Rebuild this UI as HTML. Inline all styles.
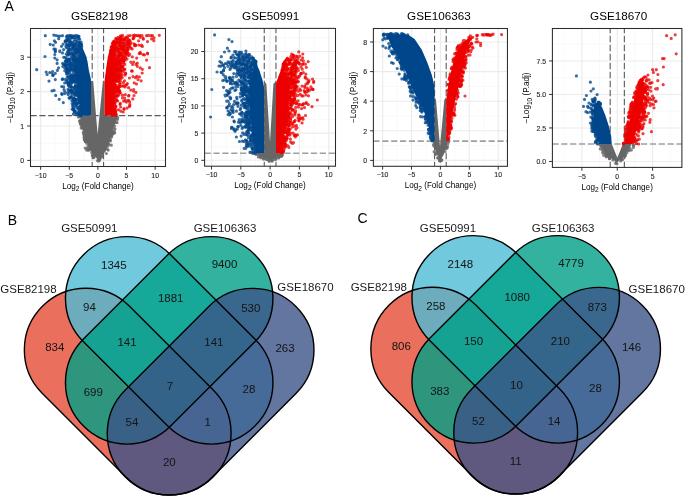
<!DOCTYPE html>
<html><head><meta charset="utf-8"><style>
html,body{margin:0;padding:0;background:#fff;}
svg{display:block;will-change:transform;}
</style></head><body>
<svg width="685" height="498" viewBox="0 0 685 498">
<rect width="685" height="498" fill="#fff"/>
<path d="M54.96 28.50V166.50M83.59 28.50V166.50M112.21 28.50V166.50M140.84 28.50V166.50M30.50 143.20H165.50M30.50 108.80H165.50M30.50 74.40H165.50M30.50 40.00H165.50" stroke="#F5F5F5" stroke-width="0.6" fill="none"/>
<path d="M40.65 28.50V166.50M69.28 28.50V166.50M97.90 28.50V166.50M126.53 28.50V166.50M155.15 28.50V166.50M30.50 160.40H165.50M30.50 126.00H165.50M30.50 91.60H165.50M30.50 57.20H165.50" stroke="#EBEBEB" stroke-width="1.1" fill="none"/>
<path d="M92.18 28.50V166.50M103.62 28.50V166.50" stroke="#4a4a4a" stroke-width="1.0" stroke-dasharray="6.5 2.5" stroke-dashoffset="1.7" fill="none"/>
<path d="M30.50 115.65H165.50" stroke="#5a5a5a" stroke-width="1.1" stroke-dasharray="6.2 2.66" fill="none"/>
<path d="M79.5 115.6L91.0 115.6L91.0 81.0L93.2 81.0L97.6 134.5L102.9 81.0L104.5 81.0L104.5 115.6L118.5 115.6L113.4 128.0L110.2 139.3L105.9 151.0L98.2 160.2L90.6 151.0L85.3 139.3L82.6 128.0Z" fill="#666666"/>
<path d="M80.5 121.1h0M86.6 143.2h0M114.4 133.1h0M89.1 149.8h0M82.1 126.6h0M99.3 160.6h0M85.5 140.1h0M81.1 125.3h0M79.6 121.3h0M112.2 134.4h0M98.5 160.0h0M113.0 132.3h0M101.3 157.0h0M81.3 123.6h0M109.9 140.6h0" stroke="#666666" stroke-opacity="0.8" stroke-width="3.20" stroke-linecap="round" fill="none"/>
<path d="M87.9 145.7h0M99.8 158.5h0M111.9 134.5h0M87.1 148.3h0M114.0 130.6h0M79.3 116.2h0M110.2 141.1h0M85.5 141.4h0M93.5 157.7h0M111.7 136.8h0M111.3 145.2h0M112.2 133.4h0M82.6 128.3h0M106.4 153.5h0M84.5 140.0h0" stroke="#666666" stroke-opacity="0.8" stroke-width="3.20" stroke-linecap="round" fill="none"/>
<path d="M89.1 149.0h0M98.7 161.0h0M84.3 139.3h0M117.5 119.5h0M92.8 155.1h0M84.3 137.4h0M112.2 132.7h0M84.1 135.6h0M91.7 152.4h0M82.0 126.7h0M80.8 123.8h0M85.2 148.1h0M112.4 131.6h0M85.6 141.6h0M99.8 158.4h0" stroke="#666666" stroke-opacity="0.8" stroke-width="3.20" stroke-linecap="round" fill="none"/>
<path d="M114.6 126.1h0M117.1 122.6h0M88.3 150.2h0M84.2 134.7h0M113.8 127.4h0M108.1 146.0h0M84.6 139.3h0M99.7 159.5h0M92.3 155.5h0M117.7 117.7h0M81.2 128.0h0M82.5 128.1h0M108.7 144.4h0M112.3 132.9h0M80.9 123.4h0" stroke="#666666" stroke-opacity="0.8" stroke-width="3.20" stroke-linecap="round" fill="none"/>
<path d="M80.4 121.2h0M85.5 141.2h0M97.4 160.6h0M115.0 129.1h0M94.1 157.3h0M79.5 116.6h0M80.8 123.4h0M84.8 137.8h0M84.1 137.4h0M107.2 148.9h0M111.2 136.3h0M83.3 131.9h0M112.2 133.2h0M102.3 155.5h0M108.6 144.0h0" stroke="#666666" stroke-opacity="0.8" stroke-width="3.20" stroke-linecap="round" fill="none"/>
<path d="M86.6 150.1h0M101.5 156.8h0M88.8 147.4h0M116.0 122.6h0M78.4 117.1h0M81.3 123.4h0M85.5 141.0h0M94.2 155.7h0M80.0 120.6h0M93.2 154.9h0M114.7 132.6h0M108.2 150.1h0M83.4 133.3h0M80.3 123.3h0M110.4 139.4h0" stroke="#666666" stroke-opacity="0.8" stroke-width="3.20" stroke-linecap="round" fill="none"/>
<path d="M78.0 36.3L80.6 43.0L83.5 50.0L86.5 57.0L87.6 62.0L88.8 70.0L90.9 79.0L91.0 84.0L91.0 102.0L91.0 115.6L81.0 115.6L79.0 102.0L77.0 84.0L75.9 79.0L73.8 70.0L74.6 62.0L78.5 57.0L81.5 50.0L80.6 43.0L78.0 36.3Z" fill="#00468B"/>
<path d="M64.7 82.9h0M67.5 35.5h0M69.5 54.1h0M75.0 62.3h0M72.9 73.5h0M75.3 57.2h0M67.5 55.3h0M71.0 35.6h0M72.2 43.9h0M80.3 49.4h0M65.4 79.4h0M61.7 86.5h0M53.8 35.1h0M71.0 68.4h0M72.9 81.6h0M66.3 71.8h0M80.1 54.9h0M68.7 65.0h0M68.9 42.1h0M69.2 53.2h0M45.3 35.7h0M66.9 44.5h0M69.9 85.7h0M70.0 66.9h0M62.3 79.6h0M79.5 102.7h0M63.7 64.6h0M76.6 92.4h0M57.1 63.4h0M69.7 45.6h0M69.7 98.2h0M76.5 40.0h0M78.0 95.2h0M67.6 79.5h0M69.3 42.0h0M74.7 68.5h0M74.4 64.8h0M74.6 68.1h0M71.4 58.8h0M64.6 91.2h0M71.8 37.7h0M75.1 39.4h0M69.4 86.4h0M70.9 66.2h0M75.8 49.6h0M67.5 61.3h0M76.8 80.6h0M52.6 71.5h0M71.7 65.5h0M77.6 51.3h0M61.8 93.5h0M67.4 40.5h0M75.1 50.9h0M74.0 97.9h0M80.5 115.4h0M58.7 38.7h0M80.3 46.1h0M77.0 114.3h0M66.8 66.3h0M73.4 54.6h0M76.8 102.8h0M72.0 78.2h0M64.0 89.5h0M52.1 72.8h0M75.1 104.0h0M68.7 44.6h0M63.3 102.6h0M60.0 36.0h0M79.0 49.1h0M77.2 51.3h0M57.1 59.8h0M66.6 61.5h0M54.4 40.8h0M76.6 87.1h0M64.8 70.8h0M70.4 85.6h0M74.2 59.4h0M68.1 82.9h0M73.0 66.3h0M74.7 93.8h0M74.9 76.1h0M72.1 103.6h0M76.1 57.9h0M76.8 40.4h0" stroke="#00468B" stroke-opacity="0.78" stroke-width="3.20" stroke-linecap="round" fill="none"/>
<path d="M68.8 59.0h0M76.8 82.1h0M67.6 73.0h0M74.2 87.9h0M67.0 38.7h0M71.9 69.7h0M78.6 99.0h0M59.2 99.3h0M69.7 72.3h0M79.7 39.3h0M73.3 77.2h0M66.9 71.7h0M72.9 56.4h0M78.0 47.4h0M53.0 75.1h0M77.4 56.7h0M74.2 75.0h0M79.9 113.5h0M71.5 96.5h0M74.8 79.7h0M77.1 80.5h0M70.6 79.9h0M55.6 42.3h0M71.7 96.0h0M69.5 73.4h0M79.9 108.8h0M70.0 74.3h0M75.2 90.2h0M72.8 44.6h0M77.8 57.7h0M68.4 45.9h0M69.1 89.9h0M67.5 73.8h0M80.8 110.2h0M58.0 36.0h0M80.3 46.8h0M79.3 56.6h0M79.2 95.1h0M66.6 69.1h0M76.1 43.5h0M69.3 51.0h0M76.4 58.4h0M76.9 99.0h0M65.1 63.9h0M68.6 85.8h0M77.8 103.4h0M78.7 113.0h0M62.5 52.9h0M67.6 38.8h0M68.1 70.2h0M71.6 90.9h0M70.8 82.9h0M71.4 64.1h0M73.2 59.7h0M69.7 64.7h0M54.8 54.5h0M75.8 47.9h0M66.3 36.5h0M67.8 64.5h0M73.5 108.8h0M78.2 56.7h0M74.3 99.2h0M78.4 58.4h0M77.9 36.4h0M67.7 61.1h0M63.2 44.1h0M68.0 89.4h0M66.4 65.1h0M79.1 42.4h0M78.5 90.6h0M68.3 76.8h0M72.8 38.0h0M74.4 91.3h0M73.7 46.9h0M74.0 36.0h0M75.2 103.5h0M69.6 77.6h0M80.3 107.9h0M53.9 49.1h0M75.6 81.4h0M76.3 91.7h0M58.5 67.9h0M76.5 113.0h0M68.7 59.7h0" stroke="#00468B" stroke-opacity="0.78" stroke-width="3.20" stroke-linecap="round" fill="none"/>
<path d="M75.3 85.7h0M66.5 40.7h0M71.1 69.8h0M70.3 43.0h0M76.4 49.3h0M76.3 46.1h0M68.2 84.5h0M81.5 44.3h0M69.5 35.5h0M77.3 93.8h0M69.9 62.9h0M72.4 47.6h0M49.0 81.1h0M69.5 44.3h0M80.0 102.4h0M72.9 53.9h0M80.5 106.8h0M65.5 40.9h0M67.6 53.2h0M75.3 37.6h0M73.7 98.9h0M73.1 81.9h0M71.8 76.1h0M74.2 43.9h0M74.7 98.9h0M54.8 58.0h0M78.3 87.3h0M73.1 62.5h0M55.4 50.8h0M77.0 88.1h0M75.6 83.6h0M74.4 89.0h0M80.5 49.8h0M65.3 65.2h0M68.8 62.3h0M73.1 58.0h0M73.0 43.9h0M70.3 70.7h0M67.2 77.0h0M76.1 76.6h0M74.3 110.9h0M80.2 53.6h0M71.1 97.2h0M78.8 52.1h0M65.2 41.5h0M66.2 54.0h0M64.5 64.5h0M66.7 80.9h0M71.1 86.8h0M76.7 48.7h0M53.3 45.1h0M66.3 68.4h0M63.6 49.6h0M74.6 64.9h0M76.5 78.5h0M69.1 97.8h0M69.3 59.7h0M74.3 76.4h0M73.7 93.3h0M68.8 49.4h0M79.9 106.7h0M72.7 92.5h0M75.1 59.6h0M77.2 54.3h0M76.5 100.1h0M70.1 49.6h0M74.4 102.3h0M77.9 51.7h0M67.4 62.1h0M63.7 57.3h0M49.7 72.5h0M72.5 90.6h0M77.3 105.8h0M56.0 35.5h0M72.2 109.2h0M75.0 102.2h0M66.4 59.2h0M77.9 109.0h0M79.0 113.3h0M70.9 64.1h0M75.2 52.8h0M59.8 51.7h0M57.4 70.4h0M59.8 50.8h0" stroke="#00468B" stroke-opacity="0.78" stroke-width="3.20" stroke-linecap="round" fill="none"/>
<path d="M79.4 46.0h0M69.1 48.1h0M80.6 111.6h0M71.8 91.9h0M70.5 63.2h0M68.2 94.7h0M75.9 60.6h0M73.2 106.6h0M78.8 42.9h0M81.3 48.6h0M75.3 111.7h0M73.2 109.0h0M70.6 76.4h0M65.2 61.0h0M71.6 93.5h0M71.7 68.3h0M76.6 58.8h0M74.3 69.0h0M72.6 67.2h0M73.2 70.8h0M62.6 78.9h0M77.8 87.2h0M73.2 76.6h0M69.2 68.2h0M79.6 111.2h0M69.0 70.1h0M73.0 65.8h0M74.9 105.7h0M76.5 91.8h0M62.5 35.7h0M81.0 114.2h0M70.0 41.5h0M68.9 84.4h0M72.8 101.1h0M74.4 36.3h0M55.3 79.6h0M74.3 55.0h0M62.6 63.4h0M79.3 51.5h0M71.3 61.9h0M78.1 107.9h0M75.3 99.3h0M71.0 49.1h0M55.4 49.2h0M75.1 103.3h0M78.9 101.9h0M72.0 53.4h0M71.3 56.5h0M72.1 78.4h0M70.7 90.2h0M78.9 44.6h0M52.0 90.8h0M67.6 51.6h0M79.7 114.7h0M76.5 41.5h0M61.5 46.3h0M78.7 108.4h0M78.8 38.8h0M68.3 82.5h0M55.3 51.7h0M69.9 92.8h0M80.3 115.3h0M74.0 41.1h0M79.2 96.7h0M67.9 72.5h0M73.5 60.7h0M70.1 39.1h0M73.1 47.5h0M78.6 97.6h0M45.0 56.5h0M75.9 81.0h0M74.1 68.6h0M36.7 69.7h0M69.9 81.7h0M72.7 64.5h0M80.8 44.0h0M68.4 54.6h0M71.7 37.6h0M66.4 67.5h0M80.7 113.2h0M70.3 64.0h0M71.7 83.3h0M73.4 103.9h0M69.6 61.0h0" stroke="#00468B" stroke-opacity="0.78" stroke-width="3.20" stroke-linecap="round" fill="none"/>
<path d="M74.4 46.0h0M66.6 48.0h0M66.8 44.9h0M62.0 94.4h0M77.3 87.3h0M81.0 52.8h0M67.7 39.8h0M75.6 80.2h0M77.2 95.5h0M74.9 72.0h0M76.4 79.5h0M69.9 53.4h0M78.9 36.3h0M65.8 42.1h0M75.0 110.9h0M71.3 45.3h0M66.6 61.6h0M79.9 101.3h0M66.5 73.9h0M62.9 66.6h0M67.5 37.7h0M79.4 44.6h0M72.1 87.1h0M70.6 41.5h0M79.7 100.0h0M80.4 43.9h0M80.2 53.0h0M67.4 92.7h0M70.0 65.8h0M71.5 75.9h0M69.7 40.7h0M78.0 95.5h0M69.6 91.1h0M69.4 68.9h0M66.0 64.7h0M73.3 69.9h0M74.5 52.0h0M81.6 115.6h0M76.9 53.2h0M76.1 85.8h0M73.7 45.8h0M76.7 52.3h0M67.0 82.8h0M74.3 111.1h0M80.6 51.1h0M77.1 92.3h0M77.1 50.3h0M78.6 111.6h0M69.4 90.4h0M74.8 53.7h0M70.7 80.4h0M71.0 54.0h0M80.1 48.0h0M74.5 111.9h0M50.2 44.4h0M73.4 48.6h0M80.9 45.7h0M73.9 99.4h0M52.9 75.4h0M72.9 79.4h0M74.0 55.9h0M74.2 60.2h0M70.7 97.4h0M74.8 94.4h0M75.9 94.2h0M68.2 36.5h0M78.5 114.4h0M73.7 99.4h0M72.1 51.1h0M76.3 91.4h0M64.8 68.1h0M55.3 73.3h0M63.7 86.8h0M79.2 97.3h0M67.0 70.1h0M69.1 83.1h0M70.5 44.9h0M74.1 58.0h0M75.8 76.6h0M79.7 45.7h0M77.6 37.5h0M75.1 62.4h0M75.1 72.1h0" stroke="#00468B" stroke-opacity="0.78" stroke-width="3.20" stroke-linecap="round" fill="none"/>
<path d="M74.8 95.3h0M65.3 41.1h0M71.4 89.6h0M77.0 52.2h0M70.8 76.6h0M73.1 48.3h0M65.4 57.3h0M79.8 100.5h0M69.4 59.0h0M65.9 46.4h0M54.1 90.4h0M79.8 42.5h0M71.4 65.7h0M79.5 55.8h0M79.3 100.6h0M80.6 47.6h0M55.7 95.4h0M76.9 90.2h0M76.3 100.0h0M73.7 109.9h0M46.2 72.1h0M65.6 61.4h0M78.6 49.8h0M72.5 35.9h0M74.2 81.5h0M70.8 36.7h0M80.2 108.2h0M79.8 101.6h0M75.2 86.3h0M66.9 58.9h0M74.3 49.7h0M80.8 42.8h0M72.3 42.5h0M74.3 114.5h0M69.7 90.4h0M75.7 43.9h0M72.4 78.2h0M76.4 95.2h0M80.3 43.2h0M81.5 45.1h0M76.8 86.4h0M77.5 35.9h0M80.5 105.8h0M74.3 45.7h0M74.0 78.1h0M69.7 78.6h0M78.0 85.7h0M74.3 87.5h0M76.8 79.3h0M65.4 65.8h0M73.4 113.9h0M72.1 92.5h0M71.4 75.5h0M75.1 101.5h0M79.5 46.9h0M76.6 104.0h0M75.9 107.2h0M67.6 69.3h0M67.3 60.6h0M72.4 81.5h0M69.5 45.7h0M69.9 36.9h0M71.2 86.8h0M71.9 100.5h0M77.5 45.2h0M76.0 35.3h0M78.8 36.8h0M80.2 42.7h0M76.2 88.5h0M74.3 60.7h0M68.8 50.2h0M47.1 74.5h0M74.4 56.0h0M76.1 81.6h0M74.7 75.8h0M70.5 63.4h0M69.8 76.8h0M81.7 46.4h0M64.7 93.6h0M70.0 59.5h0M81.1 42.1h0M72.6 106.1h0M73.6 98.7h0" stroke="#00468B" stroke-opacity="0.78" stroke-width="3.20" stroke-linecap="round" fill="none"/>
<path d="M117.7 37.2L113.0 43.0L109.6 50.0L107.8 57.0L106.5 66.0L104.6 80.6L104.5 84.0L104.5 102.0L104.5 115.6L113.5 115.6L114.5 102.0L115.5 84.0L115.6 80.6L116.5 66.0L114.8 57.0L111.6 50.0L113.0 43.0L117.7 37.2Z" fill="#ED0000"/>
<path d="M116.3 78.5h0M111.2 51.0h0M117.6 81.7h0M128.0 35.8h0M121.9 56.4h0M118.0 91.3h0M127.1 108.1h0M116.0 106.4h0M115.3 71.5h0M119.4 69.2h0M127.1 52.2h0M115.3 71.3h0M118.6 49.2h0M115.7 106.2h0M112.5 115.5h0M130.1 46.8h0M124.7 60.1h0M134.5 45.7h0M118.7 49.4h0M124.1 52.0h0M123.3 86.1h0M136.8 76.4h0M123.3 46.3h0M119.6 63.7h0M112.3 47.6h0M112.8 48.2h0M116.3 81.3h0M114.3 50.5h0M116.5 56.4h0M114.3 104.1h0M122.1 47.7h0M114.6 42.6h0M123.6 50.7h0M147.5 41.6h0M115.5 58.3h0M113.8 53.8h0M120.7 46.7h0M120.2 70.2h0M112.8 114.6h0M121.4 51.9h0M112.7 114.8h0M113.0 54.8h0M114.9 92.6h0M117.1 87.6h0M147.4 53.1h0M125.3 44.9h0M121.8 51.4h0M119.9 46.1h0M118.9 80.8h0M114.4 108.4h0M134.6 44.9h0M116.6 99.8h0M112.6 43.6h0M116.2 74.2h0M148.5 35.4h0M111.2 47.4h0M115.0 41.8h0M119.7 65.4h0M131.5 70.9h0M114.5 60.6h0M116.4 80.9h0M120.5 35.9h0M121.1 78.6h0M120.1 93.0h0M129.4 78.0h0M116.7 69.3h0M133.7 62.0h0M116.6 80.7h0M142.4 46.4h0M119.6 62.9h0M120.7 71.0h0M117.2 51.5h0M120.1 41.8h0M113.7 110.7h0M116.1 76.2h0M120.3 103.4h0M131.1 42.8h0M111.5 48.2h0M153.8 40.7h0M115.4 87.9h0M119.5 55.4h0M120.5 67.2h0M127.7 47.9h0M123.6 101.2h0M138.8 45.0h0M113.8 103.1h0M128.3 40.2h0M122.2 77.6h0M117.9 61.3h0M112.5 54.0h0M114.7 113.5h0M122.6 46.5h0M115.6 56.3h0" stroke="#ED0000" stroke-opacity="0.76" stroke-width="3.20" stroke-linecap="round" fill="none"/>
<path d="M118.6 78.0h0M125.8 41.8h0M120.7 107.0h0M120.2 71.0h0M113.6 102.6h0M118.1 79.3h0M127.3 43.9h0M114.5 91.8h0M115.3 61.7h0M121.4 47.6h0M142.2 73.0h0M119.1 76.6h0M146.5 35.7h0M135.8 45.6h0M127.8 38.2h0M116.4 63.3h0M118.6 80.8h0M117.2 48.7h0M115.5 49.0h0M137.5 35.7h0M123.7 61.4h0M132.8 98.9h0M122.1 43.0h0M122.5 95.2h0M121.2 58.6h0M127.9 49.7h0M111.5 50.1h0M121.8 62.8h0M117.7 75.1h0M119.3 91.0h0M122.8 66.7h0M115.9 59.2h0M142.4 69.3h0M114.5 44.5h0M110.7 50.2h0M120.4 42.8h0M130.8 62.1h0M125.7 73.6h0M117.4 67.1h0M115.6 114.0h0M128.6 100.3h0M120.1 86.5h0M114.3 41.5h0M127.4 83.6h0M111.8 51.7h0M134.1 37.2h0M116.0 49.4h0M127.5 47.3h0M149.5 67.7h0M118.3 80.2h0M127.2 52.7h0M119.0 68.2h0M132.7 64.4h0M114.2 54.8h0M137.3 66.3h0M125.3 94.7h0M114.1 56.1h0M151.0 35.6h0M125.6 54.9h0M120.0 104.4h0M121.0 39.6h0M122.9 58.4h0M124.8 39.5h0M116.0 115.3h0M118.3 57.9h0M113.4 109.5h0M116.6 77.2h0M118.7 65.5h0M129.1 39.8h0M124.0 48.4h0M121.3 48.6h0M122.2 74.6h0M127.5 43.4h0M123.2 112.0h0M120.2 92.5h0M116.7 76.5h0M122.5 35.3h0M146.6 60.1h0M116.2 80.5h0M115.6 50.1h0M128.1 41.6h0M120.5 45.4h0M116.8 80.3h0M120.2 74.4h0M116.8 71.5h0M118.2 42.6h0M120.3 72.5h0M118.5 51.7h0M121.2 73.8h0M114.8 86.0h0M143.1 38.2h0M125.4 46.1h0M124.5 80.8h0" stroke="#ED0000" stroke-opacity="0.76" stroke-width="3.20" stroke-linecap="round" fill="none"/>
<path d="M113.4 46.4h0M113.6 101.8h0M123.4 48.6h0M114.8 114.1h0M114.5 54.5h0M113.9 41.1h0M116.4 48.8h0M120.9 42.4h0M125.0 53.6h0M116.2 78.0h0M128.6 96.0h0M117.2 66.4h0M114.7 54.4h0M120.6 54.4h0M130.9 48.3h0M118.1 57.4h0M120.1 83.3h0M119.0 38.4h0M119.2 45.2h0M136.5 84.0h0M115.3 61.8h0M119.0 63.6h0M123.8 48.6h0M118.7 89.1h0M118.7 49.3h0M115.3 91.2h0M121.5 60.4h0M129.8 105.8h0M120.4 59.7h0M121.2 43.0h0M114.3 99.4h0M118.8 60.0h0M115.6 111.5h0M120.4 70.2h0M133.0 35.5h0M119.7 68.9h0M120.4 81.3h0M120.5 37.2h0M118.1 40.0h0M113.2 52.0h0M117.9 42.2h0M118.0 37.3h0M118.5 87.0h0M115.1 87.1h0M125.5 50.1h0M114.1 92.3h0M116.2 72.0h0M121.3 39.0h0M117.9 88.7h0M118.2 76.0h0M141.0 45.5h0M126.4 37.8h0M118.1 72.5h0M117.9 60.7h0M117.3 54.0h0M116.3 55.0h0M114.2 92.8h0M114.4 57.7h0M119.7 90.6h0M122.8 49.8h0M116.9 47.2h0M114.1 113.4h0M119.6 44.1h0M120.1 53.3h0M112.6 47.4h0M126.0 48.6h0M114.0 42.3h0M123.4 56.8h0M119.5 42.1h0M144.5 54.8h0M114.9 51.9h0M118.9 94.9h0M124.1 108.7h0M117.0 66.7h0M117.1 71.2h0M115.7 77.3h0M114.9 44.3h0M112.5 54.1h0M111.6 47.2h0M124.4 69.5h0M115.8 91.2h0M140.5 35.7h0M119.1 85.2h0M119.5 60.9h0M115.4 85.2h0M142.0 35.6h0M115.0 45.5h0M141.5 45.2h0M115.3 113.3h0M115.1 47.3h0M141.1 80.8h0M119.5 78.5h0M116.2 114.1h0" stroke="#ED0000" stroke-opacity="0.76" stroke-width="3.20" stroke-linecap="round" fill="none"/>
<path d="M116.8 86.1h0M112.9 49.6h0M127.4 41.5h0M127.0 59.1h0M125.0 39.7h0M113.3 43.7h0M122.9 53.9h0M118.6 89.7h0M115.4 114.9h0M116.5 42.3h0M115.9 85.4h0M119.2 86.7h0M128.1 41.2h0M120.1 52.7h0M122.9 41.8h0M119.1 76.4h0M132.2 48.9h0M117.9 91.1h0M112.8 54.3h0M121.0 76.7h0M125.3 100.4h0M123.5 55.7h0M151.6 38.9h0M114.5 84.9h0M122.0 67.7h0M114.3 47.5h0M115.2 75.2h0M116.5 79.4h0M129.7 44.3h0M125.5 37.4h0M112.3 47.3h0M115.1 102.9h0M121.2 67.5h0M119.5 54.6h0M122.6 56.2h0M123.0 59.9h0M116.5 60.5h0M115.4 68.2h0M136.7 58.1h0M125.3 56.8h0M123.3 82.7h0M121.9 86.0h0M120.9 111.2h0M113.8 112.2h0M122.1 47.1h0M125.1 52.5h0M114.8 103.1h0M115.6 112.0h0M125.1 87.0h0M115.6 61.0h0M120.2 74.4h0M113.9 114.0h0M116.5 61.0h0M128.1 55.0h0M113.4 42.2h0M125.9 53.6h0M116.8 63.3h0M128.1 42.8h0M114.4 86.5h0M129.2 41.3h0M114.7 42.0h0M124.7 69.2h0M117.1 96.4h0M143.2 54.7h0M118.5 68.1h0M124.7 64.3h0M140.2 67.8h0M115.3 59.3h0M140.1 52.4h0M111.1 50.6h0M136.0 64.4h0M122.8 39.7h0M118.6 61.9h0M159.3 35.3h0M122.8 57.5h0M121.3 66.0h0M116.0 81.0h0M115.6 44.9h0M123.3 43.0h0M122.1 48.6h0M117.0 70.2h0M113.1 46.7h0M114.3 114.5h0M139.0 35.5h0M120.4 53.4h0M120.1 59.7h0M123.9 43.6h0M114.5 88.8h0M114.7 87.2h0M117.0 39.6h0M120.3 67.7h0M114.8 46.6h0M119.1 56.4h0" stroke="#ED0000" stroke-opacity="0.76" stroke-width="3.20" stroke-linecap="round" fill="none"/>
<path d="M114.0 51.1h0M119.3 91.4h0M122.1 66.5h0M129.8 104.3h0M127.0 50.9h0M118.3 73.5h0M123.5 60.3h0M121.0 39.9h0M118.7 62.2h0M115.4 47.8h0M116.9 95.1h0M114.3 103.4h0M117.8 95.7h0M127.9 100.9h0M115.0 78.2h0M125.5 57.9h0M154.0 37.8h0M116.6 61.6h0M119.6 38.6h0M114.8 54.5h0M129.7 101.8h0M123.6 50.8h0M118.1 43.7h0M129.8 54.3h0M119.8 83.8h0M132.3 56.8h0M116.6 59.3h0M117.2 42.1h0M115.4 110.8h0M120.2 49.3h0M121.4 37.2h0M125.1 85.3h0M115.5 62.7h0M115.5 96.4h0M119.3 38.9h0M115.3 75.8h0M118.6 109.8h0M112.9 113.6h0M124.3 46.3h0M138.0 79.6h0M116.0 39.1h0M114.8 50.0h0M117.5 44.6h0M116.1 109.8h0M125.8 50.3h0M117.3 70.5h0M128.8 55.5h0M122.9 66.0h0M114.3 97.2h0M114.7 110.1h0M114.9 62.7h0M128.9 43.4h0M114.1 107.5h0M127.6 44.8h0M114.8 52.2h0M139.2 53.6h0M123.2 71.3h0M114.9 106.1h0M119.7 60.6h0M128.4 53.4h0M121.9 47.2h0M133.7 89.6h0M114.7 104.7h0M143.4 39.1h0M115.1 73.7h0M124.1 39.6h0M121.7 61.0h0M117.6 101.0h0M120.5 63.3h0M136.0 35.5h0M117.1 90.7h0M113.1 111.8h0M115.7 78.7h0M133.5 91.1h0M137.3 63.2h0M119.8 45.3h0M129.3 106.5h0M117.5 88.7h0M125.4 73.2h0M124.0 109.3h0M122.4 37.3h0M126.4 102.1h0M132.3 71.1h0M128.6 87.7h0M112.4 50.1h0M135.9 92.4h0M121.0 59.4h0M116.9 64.0h0M122.5 44.8h0M133.1 38.7h0M116.0 63.9h0M114.8 84.1h0" stroke="#ED0000" stroke-opacity="0.76" stroke-width="3.20" stroke-linecap="round" fill="none"/>
<path d="M152.5 35.7h0M119.2 48.5h0M138.6 40.8h0M118.2 78.8h0M116.0 66.7h0M116.0 68.1h0M115.6 107.0h0M130.0 40.8h0M111.8 45.9h0M135.5 77.7h0M128.9 95.3h0M114.3 98.0h0M119.5 55.0h0M123.7 63.2h0M112.5 43.1h0M119.1 38.7h0M121.4 70.9h0M133.0 76.6h0M118.4 61.5h0M114.4 108.9h0M130.0 44.2h0M117.4 48.2h0M122.5 69.9h0M119.1 75.5h0M113.9 99.9h0M140.2 37.3h0M114.4 49.7h0M111.5 51.2h0M122.5 97.9h0M115.9 38.4h0M115.2 71.4h0M115.7 62.0h0M115.6 95.8h0M112.4 51.5h0M139.3 76.9h0M116.2 76.3h0M112.6 47.4h0M124.0 39.5h0M124.2 60.4h0M114.4 49.8h0M134.0 95.5h0M121.7 54.2h0M130.0 35.6h0M116.4 94.9h0M127.8 48.2h0M115.4 113.1h0M114.3 86.9h0M118.9 52.6h0M117.3 92.9h0M116.6 64.7h0M115.7 62.0h0M115.1 72.6h0M130.8 90.0h0M113.0 111.4h0M118.6 69.5h0M112.9 50.9h0M123.9 42.8h0M119.8 39.5h0M126.6 84.7h0M134.5 35.1h0M119.4 71.0h0M121.2 65.7h0M133.3 38.3h0M135.3 44.8h0M115.5 99.4h0M119.1 76.7h0M115.8 101.0h0M118.6 55.5h0M140.6 53.5h0M114.8 59.2h0M114.6 43.8h0M147.6 53.8h0M118.1 56.4h0M125.0 75.2h0M113.3 50.4h0M115.1 93.6h0M135.5 44.8h0M127.1 43.5h0M134.2 82.8h0M115.5 90.6h0M113.2 107.3h0M120.9 54.2h0M116.8 100.1h0M121.5 67.5h0M117.1 88.9h0M120.7 54.8h0M128.9 46.4h0M134.0 43.8h0M115.2 80.1h0M114.6 93.3h0M124.5 98.0h0M128.0 49.4h0" stroke="#ED0000" stroke-opacity="0.76" stroke-width="3.20" stroke-linecap="round" fill="none"/>
<rect x="30.50" y="28.50" width="135.00" height="138.00" fill="none" stroke="#2b2b2b" stroke-width="1.05"/>
<path d="M40.65 166.50v3.3M69.28 166.50v3.3M97.90 166.50v3.3M126.53 166.50v3.3M155.15 166.50v3.3M30.50 160.40h-3.3M30.50 126.00h-3.3M30.50 91.60h-3.3M30.50 57.20h-3.3" stroke="#333" stroke-width="1.0" fill="none"/>
<g font-family='"Liberation Sans", sans-serif' font-size="6.9" fill="#262626" stroke="#262626" stroke-width="0.12">
<text x="40.65" y="177.60" text-anchor="middle">−10</text>
<text x="69.28" y="177.60" text-anchor="middle">−5</text>
<text x="97.90" y="177.60" text-anchor="middle">0</text>
<text x="126.53" y="177.60" text-anchor="middle">5</text>
<text x="155.15" y="177.60" text-anchor="middle">10</text>
<text x="24.20" y="163.10" text-anchor="end">0</text>
<text x="24.20" y="128.70" text-anchor="end">1</text>
<text x="24.20" y="94.30" text-anchor="end">2</text>
<text x="24.20" y="59.90" text-anchor="end">3</text>
</g>
<text font-family='"Liberation Sans", sans-serif' font-size="8.15" fill="#000" x="98.00" y="188.60" text-anchor="middle">Log<tspan font-size="6.6" dy="2.1">2</tspan><tspan dy="-2.1"> (Fold Change)</tspan></text>
<text font-family='"Liberation Sans", sans-serif' font-size="8.2" fill="#000" transform="translate(13.30 97.50) rotate(-90)" x="0" y="0" text-anchor="middle">−Log<tspan font-size="6.6" dy="2.1">10</tspan><tspan dy="-2.1"> (P.adj)</tspan></text>
<text font-family='"Liberation Sans", sans-serif' font-size="11.7" fill="#000" x="99.50" y="20.1" text-anchor="middle">GSE82198</text>
<path d="M226.15 28.40V166.20M255.45 28.40V166.20M284.75 28.40V166.20M314.05 28.40V166.20M204.60 146.70H335.50M204.60 119.50H335.50M204.60 92.30H335.50M204.60 65.10H335.50M204.60 37.90H335.50" stroke="#F5F5F5" stroke-width="0.6" fill="none"/>
<path d="M211.50 28.40V166.20M240.80 28.40V166.20M270.10 28.40V166.20M299.40 28.40V166.20M328.70 28.40V166.20M204.60 160.30H335.50M204.60 133.10H335.50M204.60 105.90H335.50M204.60 78.70H335.50M204.60 51.50H335.50" stroke="#EBEBEB" stroke-width="1.1" fill="none"/>
<path d="M264.24 28.40V166.20M275.96 28.40V166.20" stroke="#4a4a4a" stroke-width="1.0" stroke-dasharray="6.5 2.5" stroke-dashoffset="1.7" fill="none"/>
<path d="M204.60 153.22H335.50" stroke="#a0a0a0" stroke-width="1.6" stroke-dasharray="6.2 2.66" fill="none"/>
<path d="M256.0 153.2L264.2 153.2L264.2 81.0L266.4 84.0L270.0 142.0L273.4 84.0L276.0 81.0L276.0 153.2L283.5 153.2L277.0 157.5L270.2 160.4L263.0 157.5Z" fill="#666666"/>
<path d="M281.7 155.3h0M255.9 153.9h0M260.4 156.0h0M266.4 159.5h0M272.1 161.2h0M268.5 160.0h0" stroke="#666666" stroke-opacity="0.8" stroke-width="3.20" stroke-linecap="round" fill="none"/>
<path d="M261.0 157.8h0M263.5 159.1h0M258.7 155.0h0M272.1 160.3h0M261.2 157.3h0M261.1 157.1h0" stroke="#666666" stroke-opacity="0.8" stroke-width="3.20" stroke-linecap="round" fill="none"/>
<path d="M278.5 158.0h0M256.9 154.3h0M282.0 155.4h0M270.7 160.3h0M252.7 153.5h0M279.2 156.8h0" stroke="#666666" stroke-opacity="0.8" stroke-width="3.20" stroke-linecap="round" fill="none"/>
<path d="M278.7 157.6h0M280.1 156.6h0M255.8 153.9h0M281.5 156.3h0M281.2 156.4h0M269.1 161.3h0" stroke="#666666" stroke-opacity="0.8" stroke-width="3.20" stroke-linecap="round" fill="none"/>
<path d="M258.4 157.0h0M254.7 153.4h0M282.2 155.1h0M279.5 156.0h0M264.8 158.3h0M275.8 158.9h0" stroke="#666666" stroke-opacity="0.8" stroke-width="3.20" stroke-linecap="round" fill="none"/>
<path d="M273.9 159.5h0M263.1 157.8h0M267.4 159.4h0M275.4 159.3h0M260.2 157.0h0" stroke="#666666" stroke-opacity="0.8" stroke-width="3.20" stroke-linecap="round" fill="none"/>
<path d="M246.0 51.0L251.0 56.0L255.5 62.0L259.3 70.0L262.5 80.0L264.2 88.0L264.2 112.0L264.2 129.0L264.2 146.0L264.2 153.2L256.2 153.2L255.2 146.0L252.2 129.0L250.2 112.0L249.2 88.0L251.5 80.0L254.3 70.0L255.5 62.0L251.0 56.0L246.0 51.0Z" fill="#00468B"/>
<path d="M244.4 77.3h0M236.0 89.6h0M246.2 69.1h0M229.5 112.5h0M252.4 139.6h0M228.6 106.0h0M240.7 114.0h0M250.5 84.0h0M238.1 103.4h0M256.1 151.7h0M236.4 82.1h0M248.6 105.6h0M248.6 91.8h0M242.8 72.1h0M248.7 56.5h0M240.9 81.8h0M245.8 65.5h0M252.5 149.5h0M249.4 82.1h0M250.7 138.5h0M245.8 58.4h0M242.5 96.1h0M255.7 65.8h0M244.2 148.4h0M245.9 51.0h0M234.4 101.4h0M249.8 91.4h0M244.1 141.4h0M245.7 91.9h0M232.3 80.3h0M246.0 53.6h0M214.6 34.9h0M255.0 143.1h0M251.9 73.1h0M227.9 91.4h0M243.2 82.8h0M245.7 60.3h0M245.5 127.3h0M226.7 81.3h0M230.7 97.8h0M227.3 94.6h0M245.0 103.4h0M231.4 106.6h0M239.2 57.5h0M248.5 60.4h0M248.8 128.1h0M248.2 130.9h0M226.9 63.8h0M251.3 82.7h0M243.7 117.8h0M248.9 146.1h0M253.8 136.0h0M246.4 143.5h0M250.1 57.4h0M253.8 140.6h0M248.7 100.4h0M255.7 61.1h0M238.0 106.3h0M250.2 67.4h0M243.0 89.0h0M244.1 119.5h0M250.7 75.0h0M230.0 69.4h0M229.0 51.0h0M229.8 97.0h0M252.6 78.3h0M235.3 83.9h0M221.3 56.7h0M250.4 143.8h0M240.1 58.7h0M251.8 136.3h0M233.1 87.8h0M254.6 62.0h0M231.2 65.8h0M241.3 90.0h0M246.8 106.1h0M245.4 139.9h0M244.7 94.5h0M236.4 102.9h0M242.1 112.7h0M249.4 81.3h0M232.3 84.0h0M251.7 56.8h0M241.2 136.1h0M239.8 69.9h0M221.6 72.3h0M242.8 102.8h0M239.4 141.5h0M238.4 85.1h0M238.4 122.2h0M236.8 68.3h0M246.8 116.0h0M249.4 119.2h0M254.1 135.3h0M241.7 64.9h0M245.7 148.3h0M250.5 111.6h0M237.3 69.9h0M231.0 57.9h0M244.5 87.6h0M246.2 95.2h0M245.7 72.8h0M244.2 76.9h0M237.9 86.5h0M245.0 69.8h0M234.3 121.8h0M249.5 54.6h0M254.4 64.2h0M251.3 77.3h0M254.2 67.2h0M255.5 145.9h0M255.5 66.3h0M251.3 56.9h0M249.6 129.3h0M250.6 65.0h0M243.5 106.1h0M236.0 86.4h0M255.6 143.8h0" stroke="#00468B" stroke-opacity="0.78" stroke-width="3.20" stroke-linecap="round" fill="none"/>
<path d="M248.1 67.1h0M254.1 70.2h0M242.2 69.7h0M255.9 62.2h0M250.1 78.1h0M236.3 62.5h0M251.0 114.0h0M232.4 63.2h0M250.9 75.3h0M230.4 77.8h0M240.1 62.7h0M250.9 140.4h0M230.1 89.4h0M251.6 146.9h0M236.4 103.8h0M248.2 100.2h0M226.6 90.6h0M245.6 54.7h0M247.4 96.4h0M254.2 146.4h0M246.7 134.8h0M234.0 121.1h0M254.3 65.3h0M245.0 115.3h0M255.2 68.7h0M228.9 39.6h0M254.6 138.2h0M252.8 69.6h0M239.1 81.1h0M239.7 75.2h0M248.6 144.1h0M242.9 127.1h0M250.8 79.1h0M245.3 65.6h0M249.3 120.3h0M250.7 101.0h0M237.4 61.6h0M251.0 83.9h0M253.5 69.0h0M235.8 58.0h0M240.6 61.9h0M243.3 67.8h0M237.7 72.7h0M253.3 75.3h0M254.9 69.1h0M238.5 60.2h0M242.6 83.0h0M241.6 75.1h0M252.6 126.7h0M246.6 116.0h0M244.3 86.1h0M238.0 63.4h0M229.7 77.4h0M248.2 123.3h0M243.1 63.1h0M249.1 137.4h0M240.8 108.2h0M233.0 55.0h0M246.3 145.7h0M249.9 89.6h0M246.2 111.9h0M241.3 105.0h0M248.0 135.7h0M252.5 123.3h0M240.2 61.9h0M243.2 89.6h0M244.7 107.7h0M250.1 137.4h0M227.0 107.4h0M248.7 123.0h0M254.4 60.9h0M254.1 140.1h0M248.4 91.6h0M247.7 71.9h0M247.1 124.9h0M249.1 76.0h0M246.2 121.9h0M243.2 121.7h0M243.8 60.9h0M252.9 58.7h0M239.3 55.8h0M250.5 104.1h0M239.6 113.8h0M252.7 131.4h0M254.1 140.4h0M246.3 140.9h0M255.6 66.4h0M242.4 82.1h0M238.7 80.0h0M248.2 77.4h0M231.8 88.1h0M250.1 72.2h0M248.5 125.3h0M236.4 137.0h0M227.5 81.0h0M223.5 65.5h0M253.7 137.8h0M230.6 68.0h0M242.7 132.9h0M248.4 133.5h0M237.6 83.8h0M246.6 140.9h0M252.4 134.6h0M247.7 113.1h0M250.2 116.9h0M247.4 119.7h0M223.5 70.2h0M248.5 137.7h0M231.7 67.2h0M245.1 122.7h0M249.9 101.0h0M250.9 105.1h0M251.2 146.4h0M242.3 141.2h0M240.1 96.8h0M247.1 131.3h0M239.3 67.1h0" stroke="#00468B" stroke-opacity="0.78" stroke-width="3.20" stroke-linecap="round" fill="none"/>
<path d="M232.0 41.6h0M246.0 91.4h0M229.3 78.1h0M253.1 58.8h0M247.3 72.5h0M249.4 113.6h0M252.2 122.8h0M241.1 121.8h0M245.3 106.5h0M245.1 94.4h0M248.3 90.0h0M222.8 80.6h0M241.6 100.7h0M230.2 64.4h0M247.3 103.1h0M248.9 58.8h0M242.0 56.6h0M253.0 65.2h0M230.6 98.8h0M251.8 123.6h0M245.5 69.3h0M239.0 74.7h0M239.5 70.1h0M229.4 103.9h0M249.0 93.1h0M239.3 71.7h0M244.7 64.3h0M254.5 71.1h0M240.8 59.5h0M234.9 90.5h0M250.4 83.8h0M249.9 74.6h0M242.0 74.6h0M251.4 80.3h0M250.0 152.2h0M251.6 73.8h0M236.2 61.8h0M236.0 51.5h0M245.1 90.1h0M255.9 64.4h0M221.1 72.3h0M249.0 76.9h0M250.1 127.2h0M245.7 116.9h0M253.8 65.3h0M251.2 80.2h0M240.4 71.2h0M249.1 111.3h0M233.9 129.8h0M238.2 54.9h0M237.7 102.8h0M247.2 61.9h0M241.9 76.3h0M243.1 86.9h0M246.2 64.6h0M243.8 91.8h0M252.9 148.3h0M254.6 72.2h0M250.1 115.1h0M252.9 59.0h0M254.1 148.4h0M254.2 73.3h0M211.8 89.5h0M247.9 77.6h0M247.5 108.3h0M246.6 62.9h0M255.7 144.8h0M242.2 83.4h0M250.8 82.7h0M247.5 142.6h0M248.3 90.2h0M244.4 98.5h0M233.2 112.5h0M253.7 133.6h0M250.3 141.8h0M234.5 67.2h0M244.2 70.0h0M232.1 61.6h0M244.9 88.1h0M247.7 87.4h0M253.3 135.8h0M249.9 83.4h0M249.6 127.5h0M247.8 56.0h0M233.8 73.5h0M249.6 86.5h0M247.3 83.5h0M251.8 129.8h0M220.8 66.2h0M245.0 126.6h0M237.7 126.6h0M251.4 73.5h0M239.7 62.8h0M245.3 79.6h0M247.9 141.8h0M248.3 122.4h0M241.2 60.1h0M254.7 148.7h0M247.0 140.8h0M255.4 150.5h0M251.2 112.8h0M254.4 69.3h0M243.4 93.0h0M243.2 75.0h0M247.2 98.4h0M237.3 129.1h0M217.0 72.0h0M235.8 83.0h0M246.2 57.7h0M254.4 143.9h0M242.0 67.8h0M240.7 125.3h0M239.2 59.8h0M248.1 123.1h0M224.5 67.7h0M248.0 67.7h0M244.0 60.1h0" stroke="#00468B" stroke-opacity="0.78" stroke-width="3.20" stroke-linecap="round" fill="none"/>
<path d="M253.9 60.2h0M248.7 81.4h0M241.2 88.3h0M245.3 88.8h0M249.6 93.9h0M249.9 123.6h0M251.1 84.3h0M250.5 73.1h0M244.5 78.1h0M239.2 52.1h0M244.2 69.2h0M255.0 61.6h0M250.5 139.8h0M250.3 121.8h0M240.5 64.0h0M252.2 123.1h0M248.5 110.3h0M255.7 62.5h0M246.2 85.3h0M240.0 54.0h0M251.6 75.5h0M249.7 108.3h0M234.7 67.9h0M252.0 152.0h0M247.0 90.8h0M253.4 58.0h0M251.0 66.4h0M234.0 82.3h0M252.2 130.5h0M251.1 65.9h0M250.2 90.0h0M255.7 65.5h0M251.8 136.7h0M224.5 52.0h0M243.1 89.8h0M243.2 94.9h0M246.1 132.7h0M250.0 76.7h0M233.1 65.5h0M242.8 63.9h0M243.6 56.8h0M225.8 76.9h0M250.6 102.2h0M244.1 103.7h0M241.8 112.4h0M230.4 113.7h0M253.5 131.3h0M251.6 134.7h0M249.7 93.3h0M228.2 101.2h0M243.6 63.9h0M250.5 62.6h0M242.3 121.7h0M230.3 83.5h0M248.1 101.5h0M238.6 62.8h0M246.0 117.0h0M254.9 61.6h0M228.5 93.5h0M245.9 125.7h0M243.3 56.7h0M232.8 107.6h0M248.0 128.4h0M236.9 65.6h0M242.7 63.2h0M252.2 128.2h0M243.9 83.4h0M249.8 99.8h0M252.1 78.0h0M251.1 111.3h0M228.1 111.0h0M246.6 126.7h0M249.7 110.7h0M249.6 82.8h0M254.8 71.7h0M243.3 94.4h0M249.2 123.4h0M246.8 121.2h0M246.8 134.5h0M245.0 56.8h0M253.2 143.1h0M227.9 66.3h0M243.1 54.7h0M248.5 132.7h0M250.2 97.6h0M226.7 101.2h0M224.9 76.6h0M244.8 76.3h0M250.7 67.8h0M237.7 70.3h0M251.0 108.3h0M255.1 66.0h0M246.1 108.2h0M241.2 78.1h0M241.7 54.2h0M246.1 80.5h0M240.5 81.0h0M250.7 103.7h0M223.0 64.8h0M249.0 121.2h0M231.0 109.6h0M249.7 82.8h0M248.7 54.5h0M252.5 64.7h0M247.1 99.6h0M245.0 74.4h0M248.4 70.3h0M252.0 61.6h0M251.7 69.1h0M230.3 78.7h0M240.1 65.0h0M241.4 70.9h0M250.7 67.4h0M230.2 113.9h0M247.5 111.7h0M251.5 130.3h0M255.5 142.1h0" stroke="#00468B" stroke-opacity="0.78" stroke-width="3.20" stroke-linecap="round" fill="none"/>
<path d="M253.1 148.8h0M237.5 54.9h0M240.2 109.7h0M246.2 119.2h0M248.2 74.8h0M247.7 144.5h0M255.3 66.8h0M226.9 95.5h0M254.0 137.2h0M242.1 64.3h0M230.1 80.6h0M210.6 117.0h0M228.9 92.6h0M248.4 70.3h0M249.1 98.3h0M245.4 99.9h0M250.8 112.6h0M254.1 138.7h0M248.9 102.8h0M235.4 129.9h0M248.9 124.5h0M250.8 69.7h0M244.0 72.7h0M254.9 151.3h0M243.2 79.7h0M247.2 112.4h0M248.3 75.0h0M225.3 63.5h0M247.1 146.6h0M233.1 110.2h0M241.3 87.6h0M247.8 115.0h0M250.5 75.2h0M244.9 91.3h0M244.2 113.8h0M246.1 117.3h0M250.9 58.6h0M242.6 99.5h0M250.4 101.7h0M225.0 95.1h0M248.8 123.2h0M255.2 65.7h0M250.8 117.7h0M242.9 58.1h0M241.7 119.4h0M250.4 135.8h0M255.3 64.9h0M235.5 64.7h0M250.6 113.1h0M225.3 96.0h0M244.4 89.3h0M249.8 58.5h0M253.2 130.7h0M241.3 90.0h0M247.4 56.2h0M251.0 122.2h0M251.8 63.4h0M246.4 75.9h0M246.0 86.5h0M255.6 61.7h0M246.5 65.2h0M244.1 72.3h0M250.6 70.6h0M233.1 77.2h0M252.7 76.6h0M242.2 128.4h0M223.6 70.8h0M237.0 99.0h0M236.6 73.9h0M241.9 93.7h0M256.2 147.0h0M228.1 61.8h0M254.6 72.6h0M244.4 64.2h0M255.2 141.8h0M219.9 61.6h0M240.3 72.9h0M251.2 67.3h0M244.1 74.0h0M253.7 74.3h0M233.6 104.7h0M248.5 100.1h0M224.6 80.0h0M242.6 95.3h0M252.1 148.3h0M254.8 153.1h0M249.8 70.6h0M252.2 140.8h0M244.4 113.7h0M236.5 76.4h0M250.8 118.0h0M252.1 62.1h0M252.0 144.7h0M250.4 93.9h0M246.9 57.0h0M245.2 106.3h0M247.2 67.7h0M252.0 136.0h0M249.1 130.0h0M255.2 148.9h0M234.1 57.5h0M234.3 128.9h0M250.3 105.7h0M241.8 115.6h0M246.7 100.5h0M231.3 57.2h0M250.6 120.7h0M227.4 48.2h0M231.6 127.3h0M248.9 126.9h0M248.6 63.0h0M241.8 90.7h0M250.6 126.6h0M255.1 68.0h0M248.7 89.3h0M253.6 133.1h0M225.8 79.1h0" stroke="#00468B" stroke-opacity="0.78" stroke-width="3.20" stroke-linecap="round" fill="none"/>
<path d="M248.7 97.8h0M249.3 60.7h0M239.1 69.6h0M251.1 113.9h0M243.8 103.3h0M239.5 68.8h0M234.5 64.0h0M247.2 71.8h0M251.2 79.2h0M246.8 125.1h0M234.6 51.7h0M245.5 121.5h0M253.3 152.4h0M249.0 93.0h0M237.2 84.0h0M248.7 122.9h0M251.0 117.3h0M244.7 104.6h0M247.8 90.2h0M232.1 80.3h0M248.3 96.0h0M252.2 71.7h0M254.7 69.0h0M246.1 102.8h0M254.4 63.6h0M251.3 69.7h0M245.7 89.6h0M244.4 76.9h0M242.6 121.0h0M248.4 80.8h0M223.6 87.3h0M243.0 69.0h0M236.5 67.2h0M248.6 126.1h0M246.8 122.5h0M236.7 97.3h0M254.3 136.0h0M245.1 84.9h0M245.1 80.8h0M233.3 60.3h0M249.6 93.1h0M229.4 62.8h0M236.4 111.2h0M232.4 117.0h0M250.5 96.1h0M246.8 97.1h0M247.6 118.0h0M240.4 93.4h0M247.9 94.6h0M247.4 113.4h0M248.8 103.5h0M248.8 100.2h0M236.5 63.7h0M249.7 66.4h0M247.1 61.8h0M255.1 61.2h0M236.0 62.4h0M241.1 76.6h0M249.4 93.4h0M255.1 66.0h0M254.6 137.4h0M252.7 64.4h0M245.3 82.5h0M219.0 66.0h0M241.4 82.8h0M246.7 113.1h0M231.5 128.5h0M254.4 72.2h0M254.3 71.4h0M247.1 87.9h0M253.6 63.9h0M232.4 111.3h0M252.6 79.3h0M245.9 65.7h0M238.1 59.5h0M242.8 92.0h0M243.4 57.1h0M240.2 122.5h0M243.6 84.0h0M240.0 53.0h0M251.6 65.1h0M232.1 127.4h0M223.2 74.6h0M251.2 84.0h0M249.9 116.4h0M255.7 61.4h0M239.2 119.7h0M230.3 62.2h0M236.2 53.8h0M243.0 59.9h0M245.6 87.7h0M229.4 114.9h0M245.0 85.7h0M230.5 82.9h0M247.8 64.6h0M228.1 114.6h0M238.6 57.6h0M230.0 92.3h0M244.1 120.9h0M241.4 52.2h0M238.3 126.7h0M251.5 72.5h0M241.1 85.0h0M247.7 105.8h0M244.1 134.4h0M233.0 64.8h0M247.5 114.9h0M253.6 72.0h0M245.5 114.7h0M246.4 87.5h0M244.9 87.3h0M221.6 62.9h0M226.9 107.9h0M235.1 131.3h0M245.4 67.6h0M247.6 73.2h0M252.4 141.3h0" stroke="#00468B" stroke-opacity="0.78" stroke-width="3.20" stroke-linecap="round" fill="none"/>
<path d="M292.0 54.0L288.0 58.0L284.0 64.0L281.0 70.0L278.5 76.0L276.0 83.4L276.0 100.0L276.0 124.5L276.0 146.0L276.0 153.2L281.0 153.2L282.5 146.0L286.0 124.5L288.5 100.0L289.0 83.4L285.5 76.0L283.0 70.0L284.0 64.0L288.0 58.0L292.0 54.0Z" fill="#ED0000"/>
<path d="M292.9 80.0h0M283.8 143.7h0M298.8 51.9h0M297.8 95.4h0M295.5 84.9h0M286.3 115.2h0M292.8 99.3h0M306.0 95.0h0M291.3 73.2h0M293.4 79.6h0M302.0 86.1h0M289.2 63.2h0M296.1 56.2h0M284.0 67.3h0M294.7 69.9h0M290.8 107.8h0M282.6 67.4h0M285.3 74.6h0M293.4 55.3h0M288.4 81.8h0M286.9 106.5h0M292.5 71.4h0M295.8 94.7h0M287.8 108.5h0M282.9 66.6h0M289.9 135.1h0M288.5 95.8h0M293.3 109.6h0M296.6 67.3h0M288.6 74.9h0M283.0 142.8h0M294.8 70.5h0M283.6 73.4h0M293.8 70.9h0M288.7 64.2h0M286.6 115.2h0M284.2 138.5h0M285.4 74.8h0M299.0 63.0h0M308.3 104.5h0M298.0 117.7h0M283.2 145.0h0M286.5 59.5h0M297.2 86.7h0M289.4 86.3h0M299.6 64.1h0M287.3 134.8h0M289.7 113.7h0M302.3 69.2h0M285.2 64.6h0M282.3 146.7h0M288.1 89.2h0M291.4 78.7h0M288.1 77.0h0M284.7 76.1h0M291.3 70.4h0M301.5 73.3h0M290.0 81.1h0M284.3 140.7h0M287.2 110.5h0M295.7 96.1h0M286.7 110.4h0M293.3 92.9h0M281.8 145.8h0M298.0 100.8h0M294.0 63.0h0M294.3 98.4h0M284.7 144.5h0M303.4 72.6h0M292.4 69.5h0M290.9 92.5h0M288.5 132.4h0M295.3 137.0h0M294.9 135.9h0M292.2 58.0h0M291.4 102.5h0M295.9 101.1h0M289.2 81.6h0M294.1 76.2h0M281.4 149.2h0M302.1 104.8h0M283.3 72.4h0M289.5 62.7h0M289.1 129.5h0M283.7 137.5h0M288.5 117.5h0M283.7 66.8h0M285.5 69.5h0M283.0 140.8h0M291.9 68.4h0M290.6 103.4h0M291.8 84.5h0M287.4 115.1h0M298.8 120.8h0M288.1 69.8h0M286.3 122.0h0M299.3 115.7h0M298.2 76.4h0M292.2 91.0h0" stroke="#ED0000" stroke-opacity="0.76" stroke-width="3.20" stroke-linecap="round" fill="none"/>
<path d="M295.0 73.8h0M287.6 125.0h0M298.3 70.4h0M287.3 132.2h0M308.0 90.0h0M287.4 124.3h0M290.9 108.1h0M287.1 78.0h0M285.4 63.0h0M286.0 117.6h0M287.2 78.8h0M281.6 151.8h0M280.8 152.1h0M287.3 124.1h0M288.3 89.0h0M312.7 89.2h0M288.7 112.7h0M287.6 145.7h0M281.0 149.3h0M290.0 96.3h0M288.4 91.9h0M292.4 100.4h0M292.5 68.2h0M302.8 54.0h0M293.8 63.3h0M293.9 64.8h0M287.3 68.2h0M284.8 66.6h0M298.1 68.7h0M282.3 147.8h0M282.6 139.2h0M297.4 82.0h0M283.6 137.4h0M296.1 62.4h0M293.5 85.1h0M291.6 100.6h0M291.9 82.3h0M299.1 63.5h0M290.7 56.6h0M286.9 108.0h0M298.4 104.4h0M307.8 83.3h0M294.3 121.7h0M296.2 103.7h0M305.5 115.5h0M292.3 74.1h0M285.8 67.2h0M290.7 112.7h0M290.3 128.8h0M294.7 82.2h0M288.0 59.0h0M291.8 81.3h0M304.7 86.1h0M283.5 150.8h0M286.8 119.4h0M289.9 73.9h0M294.7 87.2h0M297.4 134.9h0M285.3 132.4h0M283.0 142.4h0M288.4 128.8h0M284.9 74.1h0M287.5 120.9h0M294.3 65.4h0M292.2 114.5h0M287.9 105.3h0M289.3 87.1h0M287.5 102.8h0M286.2 74.2h0M299.6 76.1h0M302.7 104.7h0M288.0 95.2h0M293.4 86.6h0M287.7 96.7h0M287.9 111.3h0M293.3 100.6h0M288.6 74.3h0M298.2 78.0h0M284.7 76.4h0M290.7 120.7h0M290.4 95.6h0M291.1 98.6h0M290.7 71.4h0M287.3 58.3h0M284.0 130.6h0M289.1 125.2h0M283.5 64.2h0M288.8 147.4h0M290.1 104.3h0M304.2 90.5h0M282.8 152.8h0M285.9 69.6h0M282.2 70.0h0M288.4 146.4h0M302.6 57.8h0M305.2 77.8h0M283.0 69.1h0M282.1 142.1h0" stroke="#ED0000" stroke-opacity="0.76" stroke-width="3.20" stroke-linecap="round" fill="none"/>
<path d="M300.6 118.4h0M293.6 102.2h0M292.3 110.0h0M299.9 104.6h0M286.0 78.6h0M289.9 100.2h0M309.8 89.9h0M292.7 69.0h0M294.9 65.4h0M297.2 61.1h0M285.3 75.8h0M292.2 124.3h0M287.4 107.3h0M295.7 77.3h0M285.9 131.9h0M287.4 81.2h0M299.0 120.2h0M283.9 63.7h0M300.7 90.3h0M293.5 82.5h0M292.2 80.3h0M293.7 83.3h0M291.5 92.4h0M305.9 74.0h0M292.5 127.0h0M298.9 119.0h0M287.6 117.9h0M293.2 55.1h0M288.9 100.4h0M285.9 78.2h0M298.5 114.8h0M293.9 80.8h0M285.3 140.3h0M293.2 99.7h0M287.0 80.1h0M301.2 60.1h0M300.7 74.1h0M285.8 146.6h0M286.2 125.6h0M286.3 77.2h0M297.1 62.3h0M288.3 100.1h0M298.4 107.1h0M294.7 61.4h0M308.7 81.6h0M284.7 146.7h0M294.0 121.8h0M299.8 56.1h0M288.5 101.5h0M286.8 64.8h0M308.8 90.8h0M295.1 71.4h0M292.8 95.7h0M289.1 59.5h0M286.6 78.8h0M287.8 110.0h0M286.8 138.7h0M305.3 76.8h0M291.4 88.2h0M291.9 74.0h0M313.8 81.4h0M306.3 67.3h0M304.9 91.9h0M283.5 139.4h0M294.5 126.3h0M283.8 69.5h0M289.6 96.9h0M294.2 89.8h0M298.4 91.2h0M292.6 92.9h0M288.4 134.6h0M291.3 76.8h0M288.3 60.4h0M290.8 83.2h0M285.9 60.5h0M286.4 138.6h0M287.9 91.4h0M284.7 142.0h0M284.8 129.7h0M293.0 125.2h0M286.1 114.5h0M288.6 117.4h0M297.4 56.5h0M306.3 102.6h0M290.4 139.2h0M289.5 73.9h0M287.4 58.4h0M281.7 149.1h0M285.4 127.8h0M295.3 112.3h0M295.3 134.8h0M292.1 67.4h0M288.2 85.7h0M285.6 126.6h0M288.6 129.6h0M296.6 89.1h0M295.7 110.8h0M293.6 110.3h0" stroke="#ED0000" stroke-opacity="0.76" stroke-width="3.20" stroke-linecap="round" fill="none"/>
<path d="M295.1 82.8h0M291.1 77.7h0M290.8 68.2h0M292.1 87.3h0M288.9 78.0h0M291.4 73.5h0M293.3 101.3h0M295.6 76.0h0M291.7 105.3h0M287.4 72.3h0M287.1 72.2h0M291.4 93.2h0M301.1 67.0h0M286.1 117.1h0M296.3 86.3h0M288.0 94.1h0M281.0 149.5h0M291.7 54.2h0M286.7 137.9h0M289.7 59.8h0M290.4 100.1h0M292.5 101.8h0M296.3 72.3h0M283.4 67.2h0M282.3 141.4h0M295.8 59.8h0M293.0 64.7h0M288.0 106.5h0M289.4 98.3h0M290.2 62.8h0M300.3 94.3h0M285.9 132.6h0M289.6 119.0h0M286.6 66.1h0M289.3 61.9h0M285.6 64.5h0M288.4 103.2h0M289.5 93.6h0M290.7 142.0h0M285.4 120.2h0M286.1 73.0h0M284.8 63.7h0M293.2 75.3h0M302.1 122.9h0M288.4 73.6h0M293.7 86.8h0M303.1 95.9h0M286.1 121.1h0M308.2 61.6h0M288.7 114.2h0M295.2 74.6h0M287.6 77.7h0M296.4 79.0h0M290.3 91.7h0M284.9 139.0h0M285.6 132.1h0M288.6 125.6h0M294.2 102.8h0M288.2 86.6h0M288.4 97.4h0M295.7 67.8h0M295.2 120.4h0M294.5 99.4h0M285.6 131.2h0M303.1 119.2h0M294.7 67.5h0M285.5 131.6h0M306.1 84.1h0M283.5 69.2h0M295.1 82.0h0M295.3 90.8h0M290.1 95.8h0M285.2 74.5h0M288.8 116.9h0M290.0 123.2h0M289.6 108.6h0M290.7 79.4h0M288.0 99.4h0M291.1 142.4h0M289.3 68.5h0M285.5 143.8h0M287.3 63.8h0M288.1 81.9h0M310.9 86.9h0M290.4 118.8h0M293.0 72.5h0M284.3 62.5h0M295.5 87.3h0M289.6 93.0h0M291.1 87.9h0M288.8 131.8h0M291.3 68.1h0M286.1 64.8h0M294.5 86.4h0M285.7 123.7h0M296.7 103.2h0M293.3 56.3h0M303.4 60.8h0" stroke="#ED0000" stroke-opacity="0.76" stroke-width="3.20" stroke-linecap="round" fill="none"/>
<path d="M285.4 144.3h0M284.8 63.7h0M286.3 140.4h0M295.3 82.7h0M295.7 107.4h0M293.4 93.4h0M313.6 82.5h0M290.5 117.9h0M285.5 120.9h0M291.5 101.0h0M291.4 104.1h0M305.1 92.3h0M294.3 135.4h0M292.6 143.4h0M292.2 76.1h0M301.7 95.8h0M290.6 122.5h0M291.0 80.6h0M287.4 81.4h0M295.9 64.9h0M288.2 88.1h0M300.0 118.7h0M293.2 133.2h0M287.8 79.3h0M296.1 135.5h0M286.8 73.9h0M285.0 61.1h0M290.0 72.5h0M291.1 103.5h0M292.3 123.4h0M286.9 117.5h0M285.0 128.5h0M282.8 69.9h0M284.3 62.4h0M303.6 63.5h0M298.5 62.7h0M292.6 91.7h0M290.6 84.4h0M287.7 93.3h0M312.0 106.7h0M288.3 89.0h0M294.1 74.6h0M291.8 65.6h0M289.5 125.5h0M285.0 72.1h0M287.1 136.2h0M289.9 115.3h0M285.9 67.1h0M293.5 142.6h0M291.7 69.2h0M287.7 131.3h0M284.3 136.4h0M290.8 72.2h0M286.9 113.6h0M294.1 67.6h0M287.1 123.9h0M288.6 78.0h0M294.6 98.4h0M292.0 93.7h0M290.8 60.1h0M288.1 128.2h0M283.8 65.9h0M296.3 69.1h0M294.4 88.6h0M304.5 107.6h0M294.9 115.0h0M301.6 108.6h0M288.4 64.7h0M292.4 64.8h0M288.6 115.4h0M291.6 92.3h0M293.0 94.9h0M293.9 95.8h0M288.3 93.0h0M298.4 81.6h0M282.1 69.9h0M300.9 73.4h0M286.8 79.2h0M306.1 103.4h0M281.5 152.6h0M285.8 76.9h0M313.1 89.5h0M299.8 89.0h0M288.1 130.6h0M288.3 93.0h0M290.6 59.9h0M305.4 64.2h0M287.4 101.7h0M296.4 125.3h0M284.1 139.2h0M285.0 76.5h0M307.0 79.0h0M295.8 61.8h0M283.6 151.0h0M302.7 117.6h0M292.4 116.8h0M284.1 142.5h0M288.1 120.7h0" stroke="#ED0000" stroke-opacity="0.76" stroke-width="3.20" stroke-linecap="round" fill="none"/>
<path d="M285.4 127.8h0M286.9 109.4h0M290.0 83.5h0M287.3 69.0h0M294.6 58.1h0M285.5 129.8h0M286.4 79.4h0M289.5 92.4h0M302.0 64.4h0M282.2 148.3h0M295.0 91.9h0M309.0 80.5h0M295.0 112.9h0M306.9 91.9h0M287.9 110.4h0M287.9 134.1h0M288.3 91.9h0M303.6 103.7h0M290.4 63.8h0M290.9 133.1h0M292.7 83.1h0M307.5 89.0h0M287.0 108.6h0M289.0 130.6h0M282.2 146.0h0M283.2 151.7h0M284.8 147.1h0M287.4 124.7h0M289.9 98.5h0M292.0 101.6h0M291.3 104.2h0M293.0 94.3h0M295.9 129.2h0M288.9 60.0h0M288.0 90.8h0M283.7 138.4h0M292.6 103.8h0M295.8 70.6h0M295.4 86.7h0M288.3 96.8h0M290.4 92.1h0M291.0 93.5h0M293.1 64.6h0M290.7 84.2h0M288.6 122.1h0M288.2 111.9h0M297.0 81.1h0M288.9 86.1h0M294.2 80.7h0M286.4 137.4h0M290.4 63.2h0M283.0 145.4h0M284.1 132.4h0M285.2 63.1h0M285.7 139.2h0M284.1 132.7h0M284.9 145.5h0M292.0 110.1h0M289.7 79.9h0M304.8 87.4h0M293.8 79.0h0M307.3 88.1h0M288.4 88.6h0M288.9 98.4h0M287.4 106.8h0M284.4 148.6h0M295.7 82.2h0M287.2 138.0h0M295.0 89.7h0M296.9 61.1h0M317.3 100.0h0M312.1 89.0h0M290.1 92.0h0M287.3 108.1h0M308.0 82.0h0M288.1 133.3h0M288.0 109.2h0M281.5 151.0h0M312.5 79.1h0M308.5 95.8h0M294.1 93.4h0M288.7 98.9h0M283.7 73.4h0M287.1 70.0h0M283.0 64.4h0M290.9 105.7h0M297.9 58.4h0M295.5 64.4h0M297.0 127.7h0M284.1 73.3h0M293.8 58.7h0M292.3 59.9h0M294.0 79.7h0M285.3 64.0h0M285.4 77.7h0M302.7 64.4h0M286.0 120.5h0M295.4 80.6h0" stroke="#ED0000" stroke-opacity="0.76" stroke-width="3.20" stroke-linecap="round" fill="none"/>
<rect x="204.60" y="28.40" width="130.90" height="137.80" fill="none" stroke="#2b2b2b" stroke-width="1.05"/>
<path d="M211.50 166.20v3.3M240.80 166.20v3.3M270.10 166.20v3.3M299.40 166.20v3.3M328.70 166.20v3.3M204.60 160.30h-3.3M204.60 133.10h-3.3M204.60 105.90h-3.3M204.60 78.70h-3.3M204.60 51.50h-3.3" stroke="#333" stroke-width="1.0" fill="none"/>
<g font-family='"Liberation Sans", sans-serif' font-size="6.9" fill="#262626" stroke="#262626" stroke-width="0.12">
<text x="211.50" y="177.30" text-anchor="middle">−10</text>
<text x="240.80" y="177.30" text-anchor="middle">−5</text>
<text x="270.10" y="177.30" text-anchor="middle">0</text>
<text x="299.40" y="177.30" text-anchor="middle">5</text>
<text x="328.70" y="177.30" text-anchor="middle">10</text>
<text x="198.30" y="163.00" text-anchor="end">0</text>
<text x="198.30" y="135.80" text-anchor="end">5</text>
<text x="198.30" y="108.60" text-anchor="end">10</text>
<text x="198.30" y="81.40" text-anchor="end">15</text>
<text x="198.30" y="54.20" text-anchor="end">20</text>
</g>
<text font-family='"Liberation Sans", sans-serif' font-size="8.15" fill="#000" x="270.05" y="188.30" text-anchor="middle">Log<tspan font-size="6.6" dy="2.1">2</tspan><tspan dy="-2.1"> (Fold Change)</tspan></text>
<text font-family='"Liberation Sans", sans-serif' font-size="8.2" fill="#000" transform="translate(183.70 97.30) rotate(-90)" x="0" y="0" text-anchor="middle">−Log<tspan font-size="6.6" dy="2.1">10</tspan><tspan dy="-2.1"> (P.adj)</tspan></text>
<text font-family='"Liberation Sans", sans-serif' font-size="11.7" fill="#000" x="270.65" y="20.1" text-anchor="middle">GSE50991</text>
<path d="M397.05 28.50V166.30M425.95 28.50V166.30M454.85 28.50V166.30M483.75 28.50V166.30M373.40 145.60H507.45M373.40 116.00H507.45M373.40 86.40H507.45M373.40 56.80H507.45" stroke="#F5F5F5" stroke-width="0.6" fill="none"/>
<path d="M382.60 28.50V166.30M411.50 28.50V166.30M440.40 28.50V166.30M469.30 28.50V166.30M498.20 28.50V166.30M373.40 160.40H507.45M373.40 130.80H507.45M373.40 101.20H507.45M373.40 71.60H507.45M373.40 42.00H507.45" stroke="#EBEBEB" stroke-width="1.1" fill="none"/>
<path d="M434.62 28.50V166.30M446.18 28.50V166.30" stroke="#4a4a4a" stroke-width="1.0" stroke-dasharray="6.5 2.5" stroke-dashoffset="1.7" fill="none"/>
<path d="M373.40 141.15H507.45" stroke="#a0a0a0" stroke-width="1.6" stroke-dasharray="6.2 2.66" fill="none"/>
<path d="M432.8 141.1L434.6 141.1L434.6 97.0L436.0 100.0L440.0 146.5L444.3 100.0L446.2 97.0L446.2 141.1L447.8 141.1L446.0 148.0L443.5 155.0L440.4 160.6L437.3 155.0L434.5 148.0Z" fill="#666666"/>
<path d="M438.0 157.8h0M435.3 154.4h0M439.3 158.7h0M435.6 152.6h0" stroke="#666666" stroke-opacity="0.8" stroke-width="3.20" stroke-linecap="round" fill="none"/>
<path d="M433.5 144.7h0M447.1 148.1h0M441.4 160.6h0M441.4 160.2h0" stroke="#666666" stroke-opacity="0.8" stroke-width="3.20" stroke-linecap="round" fill="none"/>
<path d="M446.2 147.5h0M440.5 160.9h0M437.8 157.9h0M448.6 141.6h0" stroke="#666666" stroke-opacity="0.8" stroke-width="3.20" stroke-linecap="round" fill="none"/>
<path d="M436.7 153.8h0M441.8 159.8h0M444.9 151.5h0M439.6 160.2h0" stroke="#666666" stroke-opacity="0.8" stroke-width="3.20" stroke-linecap="round" fill="none"/>
<path d="M447.6 146.4h0M448.0 143.6h0M434.1 151.7h0" stroke="#666666" stroke-opacity="0.8" stroke-width="3.20" stroke-linecap="round" fill="none"/>
<path d="M439.6 161.0h0M446.2 147.9h0M434.0 146.2h0" stroke="#666666" stroke-opacity="0.8" stroke-width="3.20" stroke-linecap="round" fill="none"/>
<path d="M434.6 141.1L434.6 88.0L433.6 82.3L431.8 75.0L427.3 62.4L421.8 49.7L414.6 38.9L409.0 35.2L405.6 34.3L389.0 34.3L387.6 36.5L391.1 46.1L400.1 60.6L406.5 73.2L411.0 85.9L416.4 96.7L422.1 105.3L426.7 120.5L431.3 135.8L432.8 141.1Z" fill="#00468B"/>
<path d="M423.4 110.6h0M413.0 100.1h0M421.8 105.4h0M416.4 100.3h0M396.8 34.0h0M430.3 137.1h0M421.3 109.3h0M399.2 74.1h0M421.7 105.3h0M402.8 34.1h0M393.1 34.0h0M418.5 102.4h0M387.9 34.3h0M422.0 110.9h0M404.9 77.7h0M415.7 105.5h0M401.6 68.5h0M387.7 34.9h0M387.6 36.9h0M406.8 76.4h0M417.2 101.1h0M409.1 82.2h0M430.3 133.7h0M386.8 34.4h0M404.7 76.3h0M409.9 86.9h0M420.1 107.3h0M425.8 119.2h0" stroke="#00468B" stroke-opacity="0.78" stroke-width="3.20" stroke-linecap="round" fill="none"/>
<path d="M402.7 66.2h0M395.5 54.0h0M432.3 140.9h0M429.2 131.3h0M397.2 34.0h0M404.1 78.3h0M410.6 88.7h0M397.8 34.0h0M385.5 39.0h0M385.0 34.3h0M421.6 105.0h0M384.0 34.2h0M383.9 34.6h0M388.1 38.1h0M419.7 104.1h0M425.3 122.7h0M411.0 92.2h0M424.9 116.6h0M411.1 87.0h0M400.9 62.7h0M403.0 67.3h0M393.3 63.3h0M383.0 46.1h0M407.4 77.5h0M426.3 121.9h0M408.9 82.1h0M390.4 46.0h0M410.6 95.9h0" stroke="#00468B" stroke-opacity="0.78" stroke-width="3.20" stroke-linecap="round" fill="none"/>
<path d="M429.2 129.2h0M388.1 35.2h0M390.9 34.1h0M409.3 86.9h0M412.6 91.5h0M398.5 58.4h0M401.8 65.4h0M396.0 58.0h0M428.6 129.6h0M413.0 93.1h0M400.7 63.0h0M407.7 34.8h0M402.6 34.1h0M402.5 65.5h0M389.6 34.1h0M405.2 76.1h0M432.0 139.1h0M392.0 52.3h0M388.7 43.5h0M390.4 33.8h0M430.6 138.5h0M391.6 62.7h0M420.5 108.1h0M403.1 67.2h0M397.4 59.2h0M404.4 79.4h0M431.6 139.5h0M405.3 75.1h0" stroke="#00468B" stroke-opacity="0.78" stroke-width="3.20" stroke-linecap="round" fill="none"/>
<path d="M431.1 135.8h0M416.0 102.3h0M411.5 88.8h0M401.5 33.5h0M413.1 96.7h0M410.6 87.8h0M430.0 134.0h0M393.0 53.9h0M392.3 50.9h0M428.5 129.3h0M391.0 51.2h0M389.3 56.0h0M426.8 122.4h0M389.0 48.5h0M431.9 138.7h0M401.6 63.7h0M415.4 98.3h0M420.6 116.6h0M407.2 78.8h0M383.4 34.4h0M414.4 96.8h0M430.7 135.4h0M390.2 34.4h0M400.4 62.4h0M422.0 116.8h0M420.6 105.7h0M412.4 91.8h0M428.1 125.2h0" stroke="#00468B" stroke-opacity="0.78" stroke-width="3.20" stroke-linecap="round" fill="none"/>
<path d="M397.2 68.5h0M416.4 98.1h0M384.3 37.7h0M423.1 109.2h0M398.1 57.8h0M400.6 62.7h0M407.5 76.3h0M397.9 59.3h0M408.6 83.3h0M422.0 105.4h0M421.8 112.1h0M397.7 59.7h0M418.3 101.5h0M394.4 52.2h0M392.2 53.2h0M400.2 62.3h0M383.3 35.2h0M401.2 66.3h0M401.8 64.6h0M391.3 34.3h0M400.4 63.3h0M385.8 47.8h0M418.4 101.1h0M401.9 78.9h0M410.2 91.2h0M406.3 80.5h0M422.3 109.5h0M403.2 68.3h0" stroke="#00468B" stroke-opacity="0.78" stroke-width="3.20" stroke-linecap="round" fill="none"/>
<path d="M405.0 78.3h0M387.6 35.0h0M424.8 116.9h0M432.0 140.4h0M382.7 39.8h0M419.6 102.7h0M395.6 33.6h0M422.8 108.4h0M429.3 133.7h0M401.2 68.7h0M396.9 56.3h0M404.0 34.3h0M404.9 73.8h0M391.1 33.6h0M404.2 70.2h0M388.6 34.5h0M394.4 51.8h0M387.7 38.0h0M420.2 110.6h0M428.2 133.2h0M416.8 98.9h0M430.3 133.2h0M399.8 61.6h0M425.3 119.1h0M389.4 46.5h0M416.8 107.6h0M401.8 69.5h0" stroke="#00468B" stroke-opacity="0.78" stroke-width="3.20" stroke-linecap="round" fill="none"/>
<path d="M446.2 141.1L446.2 100.0L448.2 85.8L451.1 71.4L454.7 56.9L459.0 46.8L464.8 41.0L468.0 38.5L471.0 39.5L467.7 46.8L464.8 56.9L461.9 71.4L459.0 85.8L457.0 92.0L454.2 105.0L451.1 120.0L448.1 135.0L447.0 141.1Z" fill="#ED0000"/>
<path d="M463.5 65.9h0M468.5 50.5h0M450.9 127.1h0M487.1 34.6h0M462.6 43.0h0M460.1 85.3h0M453.3 59.6h0M449.2 132.2h0M461.7 84.4h0M451.4 121.4h0M462.6 68.3h0M460.4 44.9h0M448.4 139.1h0M451.4 68.6h0M456.4 99.1h0M462.1 76.0h0M467.9 47.2h0M463.7 63.4h0M468.2 48.0h0M493.1 34.2h0M465.2 60.7h0M463.1 73.0h0M480.6 45.6h0M465.0 96.0h0M454.5 107.7h0M471.9 43.8h0M449.3 133.5h0M466.0 56.7h0M460.3 85.1h0M464.9 60.4h0" stroke="#ED0000" stroke-opacity="0.76" stroke-width="3.20" stroke-linecap="round" fill="none"/>
<path d="M464.6 60.4h0M449.9 128.9h0M452.5 113.6h0M464.5 67.0h0M454.6 110.2h0M452.1 67.1h0M447.4 90.3h0M467.9 46.5h0M468.9 37.3h0M453.8 112.6h0M452.0 118.3h0M447.9 136.2h0M476.8 38.8h0M456.2 53.4h0M448.2 84.3h0M450.3 125.5h0M449.6 129.3h0M477.5 35.4h0M448.4 134.7h0M461.3 81.4h0M457.5 47.1h0M461.2 80.0h0M449.0 137.3h0M449.7 133.0h0M469.9 46.2h0M460.5 83.6h0M461.2 75.4h0M466.2 59.4h0M472.2 47.1h0M456.6 94.0h0" stroke="#ED0000" stroke-opacity="0.76" stroke-width="3.20" stroke-linecap="round" fill="none"/>
<path d="M453.9 113.7h0M455.7 53.7h0M462.0 71.1h0M450.3 73.8h0M459.6 85.7h0M459.1 86.2h0M452.5 115.4h0M468.1 50.2h0M448.1 84.7h0M466.2 52.5h0M458.4 45.7h0M470.8 43.9h0M463.3 72.4h0M465.4 68.1h0M467.8 50.0h0M453.2 113.8h0M468.8 46.5h0M464.8 40.6h0M473.0 48.0h0M452.6 113.7h0M463.4 40.5h0M472.7 37.3h0M461.6 81.1h0M491.3 34.9h0M450.8 125.3h0M457.1 50.0h0M448.2 139.3h0M470.4 39.2h0M463.5 40.9h0M454.6 53.8h0" stroke="#ED0000" stroke-opacity="0.76" stroke-width="3.20" stroke-linecap="round" fill="none"/>
<path d="M461.5 85.3h0M458.2 47.2h0M464.3 64.7h0M450.0 75.4h0M451.0 129.1h0M449.4 78.5h0M476.7 35.4h0M455.7 103.6h0M468.2 55.1h0M462.9 80.2h0M449.5 128.2h0M447.6 139.2h0M458.2 46.9h0M454.2 58.0h0M461.7 77.8h0M448.1 139.7h0M450.3 125.8h0M457.7 96.9h0M465.1 64.9h0M457.3 95.6h0M490.3 35.3h0M453.1 59.7h0M501.6 34.6h0M470.0 55.0h0M450.5 127.0h0M486.7 34.7h0M464.9 56.9h0M463.3 71.3h0M460.5 86.0h0" stroke="#ED0000" stroke-opacity="0.76" stroke-width="3.20" stroke-linecap="round" fill="none"/>
<path d="M471.3 50.1h0M462.3 72.1h0M451.3 120.9h0M460.5 80.7h0M460.4 86.4h0M468.5 45.7h0M456.2 53.0h0M469.0 38.7h0M464.0 61.0h0M458.2 92.9h0M457.2 93.6h0M484.1 34.9h0M488.9 35.0h0M454.9 115.3h0M449.5 77.5h0M476.0 42.0h0M464.8 64.0h0M465.3 60.0h0M453.1 114.5h0M457.0 48.2h0M467.8 51.6h0M470.4 39.1h0M449.1 79.5h0M470.7 51.8h0M464.7 63.3h0M487.0 35.0h0M485.1 34.7h0M457.6 90.3h0M450.8 123.7h0" stroke="#ED0000" stroke-opacity="0.76" stroke-width="3.20" stroke-linecap="round" fill="none"/>
<path d="M482.7 34.9h0M480.6 43.4h0M449.7 131.8h0M457.9 96.6h0M466.3 62.7h0M467.8 49.2h0M482.3 34.5h0M447.6 138.4h0M465.1 56.9h0M471.3 43.2h0M471.0 37.3h0M459.3 85.9h0M454.7 104.9h0M451.6 127.9h0M488.4 34.7h0M460.6 80.1h0M457.0 92.7h0M449.5 129.0h0M451.5 68.4h0M453.1 61.7h0M461.0 81.9h0M450.9 121.5h0M489.1 34.9h0M477.9 41.8h0M454.0 114.4h0M462.3 76.3h0M448.5 133.8h0M470.4 35.8h0M463.3 65.5h0" stroke="#ED0000" stroke-opacity="0.76" stroke-width="3.20" stroke-linecap="round" fill="none"/>
<rect x="373.40" y="28.50" width="134.05" height="137.80" fill="none" stroke="#2b2b2b" stroke-width="1.05"/>
<path d="M382.60 166.30v3.3M411.50 166.30v3.3M440.40 166.30v3.3M469.30 166.30v3.3M498.20 166.30v3.3M373.40 160.40h-3.3M373.40 130.80h-3.3M373.40 101.20h-3.3M373.40 71.60h-3.3M373.40 42.00h-3.3" stroke="#333" stroke-width="1.0" fill="none"/>
<g font-family='"Liberation Sans", sans-serif' font-size="6.9" fill="#262626" stroke="#262626" stroke-width="0.12">
<text x="382.60" y="177.40" text-anchor="middle">−10</text>
<text x="411.50" y="177.40" text-anchor="middle">−5</text>
<text x="440.40" y="177.40" text-anchor="middle">0</text>
<text x="469.30" y="177.40" text-anchor="middle">5</text>
<text x="498.20" y="177.40" text-anchor="middle">10</text>
<text x="367.10" y="163.10" text-anchor="end">0</text>
<text x="367.10" y="133.50" text-anchor="end">2</text>
<text x="367.10" y="103.90" text-anchor="end">4</text>
<text x="367.10" y="74.30" text-anchor="end">6</text>
<text x="367.10" y="44.70" text-anchor="end">8</text>
</g>
<text font-family='"Liberation Sans", sans-serif' font-size="8.15" fill="#000" x="440.42" y="188.40" text-anchor="middle">Log<tspan font-size="6.6" dy="2.1">2</tspan><tspan dy="-2.1"> (Fold Change)</tspan></text>
<text font-family='"Liberation Sans", sans-serif' font-size="8.2" fill="#000" transform="translate(355.90 97.40) rotate(-90)" x="0" y="0" text-anchor="middle">−Log<tspan font-size="6.6" dy="2.1">10</tspan><tspan dy="-2.1"> (P.adj)</tspan></text>
<text font-family='"Liberation Sans", sans-serif' font-size="11.7" fill="#000" x="438.92" y="20.1" text-anchor="middle">GSE106363</text>
<path d="M564.23 28.50V167.40M599.58 28.50V167.40M634.92 28.50V167.40M670.27 28.50V167.40M552.40 144.70H681.90M552.40 111.20H681.90M552.40 77.70H681.90M552.40 44.20H681.90" stroke="#F5F5F5" stroke-width="0.6" fill="none"/>
<path d="M581.90 28.50V167.40M617.25 28.50V167.40M652.60 28.50V167.40M552.40 161.45H681.90M552.40 127.95H681.90M552.40 94.45H681.90M552.40 60.95H681.90" stroke="#EBEBEB" stroke-width="1.1" fill="none"/>
<path d="M610.18 28.50V167.40M624.32 28.50V167.40" stroke="#4a4a4a" stroke-width="1.0" stroke-dasharray="6.5 2.5" stroke-dashoffset="1.7" fill="none"/>
<path d="M552.40 144.02H681.90" stroke="#a0a0a0" stroke-width="1.6" stroke-dasharray="6.2 2.66" fill="none"/>
<path d="M601.5 144.0L611.8 144.0L617.3 157.7L622.9 144.0L631.5 144.0L627.9 151.1L623.3 157.7L617.0 162.2L610.1 157.7L603.8 151.1Z" fill="#666666"/>
<path d="M608.1 156.3h0M609.6 158.4h0M616.9 163.7h0M602.9 148.5h0M602.2 146.3h0M620.7 160.9h0M607.5 156.1h0M633.7 145.5h0" stroke="#666666" stroke-opacity="0.8" stroke-width="3.20" stroke-linecap="round" fill="none"/>
<path d="M601.3 146.7h0M606.0 153.9h0M624.9 155.4h0M606.1 156.8h0M612.9 159.9h0M601.4 149.1h0M616.3 162.0h0M600.3 148.9h0" stroke="#666666" stroke-opacity="0.8" stroke-width="3.20" stroke-linecap="round" fill="none"/>
<path d="M633.4 147.4h0M633.1 144.9h0M600.9 145.5h0M602.6 152.6h0M606.9 155.4h0M629.1 150.6h0M601.7 145.0h0M622.2 159.5h0" stroke="#666666" stroke-opacity="0.8" stroke-width="3.20" stroke-linecap="round" fill="none"/>
<path d="M624.7 156.8h0M599.8 144.5h0M629.8 147.8h0M628.5 150.1h0M605.7 155.6h0M603.6 155.2h0M604.1 152.1h0" stroke="#666666" stroke-opacity="0.8" stroke-width="3.20" stroke-linecap="round" fill="none"/>
<path d="M606.8 154.5h0M607.9 156.2h0M626.9 152.8h0M621.4 159.4h0M605.4 153.2h0M609.4 157.0h0M615.6 163.3h0" stroke="#666666" stroke-opacity="0.8" stroke-width="3.20" stroke-linecap="round" fill="none"/>
<path d="M625.6 155.3h0M631.4 150.1h0M622.4 159.4h0M602.9 150.4h0M607.4 155.1h0M609.4 158.7h0M602.9 149.6h0" stroke="#666666" stroke-opacity="0.8" stroke-width="3.20" stroke-linecap="round" fill="none"/>
<path d="M599.0 144.0L611.7 144.0L611.2 136.0L608.8 126.0L605.6 116.0L602.0 107.0L598.5 103.0L595.5 103.0L593.8 108.0L593.6 115.0L594.0 123.0L595.0 130.0L596.5 136.0L598.0 140.0Z" fill="#00468B"/>
<path d="M593.6 121.2h0M598.7 102.7h0M593.4 106.2h0M595.1 130.9h0M584.5 99.4h0M591.8 126.1h0M593.3 119.3h0M597.3 140.3h0M594.8 98.6h0M594.1 126.1h0M595.2 135.3h0M593.3 88.8h0M595.6 133.1h0M590.3 112.1h0M586.4 95.5h0M587.6 106.4h0M594.7 104.2h0" stroke="#00468B" stroke-opacity="0.78" stroke-width="3.20" stroke-linecap="round" fill="none"/>
<path d="M598.3 102.6h0M594.7 101.5h0M593.0 125.4h0M592.5 116.7h0M592.0 104.9h0M597.1 138.2h0M590.4 123.0h0M594.1 125.1h0M590.7 108.2h0M592.2 99.4h0M587.6 112.6h0M593.1 101.5h0M597.5 143.9h0M600.2 104.6h0M590.9 117.2h0M594.7 128.6h0" stroke="#00468B" stroke-opacity="0.78" stroke-width="3.20" stroke-linecap="round" fill="none"/>
<path d="M593.4 119.2h0M597.1 94.6h0M593.8 119.7h0M591.8 124.6h0M594.1 124.4h0M592.8 114.0h0M590.8 104.3h0M593.1 125.3h0M593.4 110.9h0M593.5 129.7h0M593.3 101.6h0M595.7 134.1h0M592.9 125.2h0M598.7 102.2h0M593.7 119.1h0M589.0 103.0h0" stroke="#00468B" stroke-opacity="0.78" stroke-width="3.20" stroke-linecap="round" fill="none"/>
<path d="M595.0 98.0h0M591.8 128.4h0M592.8 110.8h0M600.0 103.3h0M591.0 91.0h0M593.2 131.5h0M592.5 129.1h0M592.0 109.4h0M583.5 106.4h0M593.1 111.2h0M594.6 127.8h0M592.9 119.7h0M594.0 105.3h0M593.2 100.4h0M595.8 136.6h0M592.7 123.2h0" stroke="#00468B" stroke-opacity="0.78" stroke-width="3.20" stroke-linecap="round" fill="none"/>
<path d="M592.5 111.4h0M596.7 139.9h0M594.1 101.7h0M597.7 140.0h0M592.3 112.0h0M593.1 123.6h0M596.3 142.0h0M598.0 102.7h0M593.5 121.2h0M593.5 124.6h0M593.4 120.6h0M592.7 127.5h0M593.1 101.9h0M592.8 121.7h0M595.5 142.7h0M600.1 103.1h0" stroke="#00468B" stroke-opacity="0.78" stroke-width="3.20" stroke-linecap="round" fill="none"/>
<path d="M591.9 131.2h0M597.0 141.5h0M586.0 111.7h0M592.6 113.6h0M595.3 100.0h0M597.9 140.8h0M588.4 107.5h0M600.5 104.2h0M576.4 75.9h0M594.6 132.2h0M595.3 141.5h0M594.5 129.3h0M593.7 131.4h0M592.3 117.8h0M590.4 82.2h0M592.5 110.7h0" stroke="#00468B" stroke-opacity="0.78" stroke-width="3.20" stroke-linecap="round" fill="none"/>
<path d="M623.6 144.0L624.6 140.0L626.0 135.0L628.5 125.0L631.0 115.0L634.0 100.0L637.0 90.0L640.0 83.5L642.5 81.0L644.5 82.5L645.0 90.0L643.5 100.0L640.5 115.0L637.0 128.0L633.5 140.0L632.0 144.0Z" fill="#ED0000"/>
<path d="M637.4 88.7h0M642.3 107.6h0M637.3 128.2h0M645.9 103.6h0M623.3 143.9h0M640.2 128.1h0M666.6 35.7h0M649.6 83.2h0M636.2 91.5h0M645.0 83.9h0M628.6 117.3h0M640.3 83.1h0M634.3 97.6h0M642.9 127.2h0M625.0 134.9h0M631.5 107.2h0M647.8 87.8h0M645.4 92.2h0M643.4 113.5h0M642.3 80.1h0M635.0 139.0h0M639.1 130.3h0M624.7 134.3h0M637.5 88.0h0M630.6 111.8h0M628.9 123.0h0M643.9 123.7h0M652.0 82.5h0M647.6 102.0h0M636.0 134.1h0M649.7 98.1h0M626.4 129.6h0M643.3 114.7h0M645.3 91.7h0M630.9 104.5h0M643.8 108.9h0M631.5 103.3h0M642.0 128.8h0M643.0 104.3h0M639.3 83.4h0M636.3 140.7h0M638.7 132.0h0M643.3 110.9h0M633.2 141.7h0M646.1 80.5h0" stroke="#ED0000" stroke-opacity="0.76" stroke-width="3.20" stroke-linecap="round" fill="none"/>
<path d="M636.8 87.7h0M637.6 129.2h0M657.4 88.3h0M643.2 103.0h0M644.7 112.1h0M631.4 112.9h0M627.4 124.6h0M639.2 127.3h0M643.0 110.5h0M644.4 96.7h0M650.1 105.7h0M642.7 117.8h0M648.0 75.0h0M649.9 122.3h0M639.9 117.7h0M663.2 84.7h0M657.3 88.9h0M644.3 104.2h0M641.8 79.8h0M648.5 89.8h0M636.7 87.4h0M639.0 123.8h0M653.5 104.5h0M656.0 101.2h0M627.5 126.6h0M650.9 91.1h0M646.9 116.3h0M632.7 142.3h0M630.8 113.7h0M639.3 84.5h0M637.2 140.0h0M630.8 110.5h0M637.3 86.1h0M645.2 91.9h0M637.5 126.7h0M647.5 94.2h0M644.9 87.5h0M638.0 124.4h0M636.8 129.0h0M625.5 132.1h0M655.6 88.8h0M645.8 103.0h0M627.7 126.3h0M646.6 105.5h0M647.8 86.6h0" stroke="#ED0000" stroke-opacity="0.76" stroke-width="3.20" stroke-linecap="round" fill="none"/>
<path d="M628.2 121.7h0M648.5 113.3h0M636.8 129.7h0M644.4 98.8h0M642.1 79.2h0M634.3 141.4h0M650.6 87.3h0M644.3 98.7h0M638.6 144.0h0M634.8 140.8h0M639.6 82.1h0M633.5 97.4h0M631.6 111.9h0M629.0 115.6h0M638.4 124.3h0M630.1 109.0h0M632.2 106.8h0M640.7 82.4h0M643.6 105.4h0M640.7 117.3h0M645.3 120.0h0M640.8 81.6h0M630.4 106.7h0M644.0 114.7h0M641.5 118.2h0M642.0 110.5h0M629.3 117.9h0M644.6 96.9h0M630.4 111.9h0M632.8 103.3h0M644.6 76.8h0M644.9 87.0h0M625.6 135.2h0M649.1 79.8h0M647.8 100.0h0M642.3 110.5h0M634.4 138.7h0M625.8 128.5h0M638.6 124.8h0M642.1 80.6h0M641.5 113.2h0M632.2 108.5h0M631.2 111.9h0M644.9 99.0h0M645.3 91.1h0" stroke="#ED0000" stroke-opacity="0.76" stroke-width="3.20" stroke-linecap="round" fill="none"/>
<path d="M650.6 83.2h0M645.6 105.3h0M636.6 129.7h0M626.6 132.4h0M657.9 74.5h0M654.0 107.8h0M643.9 117.2h0M645.2 91.1h0M645.5 89.2h0M639.3 139.2h0M657.8 80.7h0M642.0 79.6h0M638.2 139.5h0M640.7 118.5h0M662.5 58.6h0M638.1 129.2h0M634.8 137.5h0M629.4 116.1h0M647.5 94.3h0M646.0 116.0h0M640.3 120.7h0M653.8 98.0h0M637.7 135.6h0M635.8 93.2h0M647.8 93.3h0M623.5 143.2h0M638.4 135.8h0M647.4 97.0h0M632.3 105.8h0M639.5 126.2h0M639.1 82.0h0M636.0 91.0h0M644.5 110.9h0M642.6 104.6h0M636.4 143.4h0M655.2 101.5h0M638.4 86.0h0M645.5 107.5h0M640.1 124.9h0M625.1 135.8h0M628.5 123.5h0M640.7 116.5h0M645.8 99.2h0M652.6 69.7h0M640.3 82.5h0" stroke="#ED0000" stroke-opacity="0.76" stroke-width="3.20" stroke-linecap="round" fill="none"/>
<path d="M644.6 97.5h0M628.8 113.1h0M640.5 117.9h0M675.2 34.8h0M643.2 107.3h0M633.1 103.7h0M639.5 127.5h0M631.0 113.9h0M652.8 99.7h0M634.8 95.3h0M642.2 107.1h0M628.3 124.0h0M636.9 128.7h0M651.4 131.7h0M642.8 107.8h0M643.5 77.9h0M645.9 89.5h0M645.0 117.3h0M640.0 83.5h0M634.5 141.2h0M637.5 129.6h0M646.6 80.9h0M646.1 99.2h0M646.3 85.6h0M653.4 72.4h0M641.5 117.3h0M632.4 102.2h0M650.2 119.7h0M628.2 116.8h0M642.5 111.7h0M627.4 124.7h0M644.0 108.8h0M645.6 98.4h0M638.3 124.8h0M642.7 118.8h0M640.2 80.4h0M627.4 127.0h0M626.1 126.0h0M644.9 112.5h0M629.9 116.5h0M647.1 79.6h0M626.6 129.3h0M643.1 106.7h0M638.8 121.4h0" stroke="#ED0000" stroke-opacity="0.76" stroke-width="3.20" stroke-linecap="round" fill="none"/>
<path d="M644.8 92.1h0M634.5 92.8h0M649.8 103.0h0M641.6 125.3h0M650.6 99.6h0M646.8 86.9h0M656.3 69.7h0M640.7 124.5h0M642.3 108.7h0M638.5 130.5h0M634.3 137.5h0M671.2 38.4h0M652.5 96.1h0M676.2 53.8h0M642.1 111.0h0M625.9 133.9h0M645.0 90.2h0M640.9 121.2h0M645.2 101.2h0M624.9 136.6h0M629.3 111.9h0M639.9 126.5h0M642.9 125.6h0M628.3 125.3h0M635.6 93.7h0M628.1 122.5h0M663.4 67.0h0M647.7 100.3h0M643.0 133.7h0M642.5 116.5h0M631.1 104.3h0M664.2 58.6h0M642.9 120.2h0M641.9 128.5h0M651.8 104.1h0M645.3 98.6h0M638.3 84.4h0M629.7 116.9h0M623.5 143.7h0M639.1 121.8h0M639.4 124.8h0M641.0 79.8h0M631.5 108.4h0M646.0 77.0h0" stroke="#ED0000" stroke-opacity="0.76" stroke-width="3.20" stroke-linecap="round" fill="none"/>
<rect x="552.40" y="28.50" width="129.50" height="138.90" fill="none" stroke="#2b2b2b" stroke-width="1.05"/>
<path d="M581.90 167.40v3.3M617.25 167.40v3.3M652.60 167.40v3.3M552.40 161.45h-3.3M552.40 127.95h-3.3M552.40 94.45h-3.3M552.40 60.95h-3.3" stroke="#333" stroke-width="1.0" fill="none"/>
<g font-family='"Liberation Sans", sans-serif' font-size="6.9" fill="#262626" stroke="#262626" stroke-width="0.12">
<text x="581.90" y="178.50" text-anchor="middle">−5</text>
<text x="617.25" y="178.50" text-anchor="middle">0</text>
<text x="652.60" y="178.50" text-anchor="middle">5</text>
<text x="546.10" y="164.15" text-anchor="end">0.0</text>
<text x="546.10" y="130.65" text-anchor="end">2.5</text>
<text x="546.10" y="97.15" text-anchor="end">5.0</text>
<text x="546.10" y="63.65" text-anchor="end">7.5</text>
</g>
<text font-family='"Liberation Sans", sans-serif' font-size="8.15" fill="#000" x="617.15" y="189.50" text-anchor="middle">Log<tspan font-size="6.6" dy="2.1">2</tspan><tspan dy="-2.1"> (Fold Change)</tspan></text>
<text font-family='"Liberation Sans", sans-serif' font-size="8.2" fill="#000" transform="translate(529.40 97.95) rotate(-90)" x="0" y="0" text-anchor="middle">−Log<tspan font-size="6.6" dy="2.1">10</tspan><tspan dy="-2.1"> (P.adj)</tspan></text>
<text font-family='"Liberation Sans", sans-serif' font-size="11.7" fill="#000" x="618.65" y="20.1" text-anchor="middle">GSE18670</text>
<text font-family='"Liberation Sans", sans-serif' font-size="14" x="4.4" y="11.2">A</text>
<text font-family='"Liberation Sans", sans-serif' font-size="14" x="7.8" y="224.9">B</text>
<text font-family='"Liberation Sans", sans-serif' font-size="14" x="357.5" y="222.7">C</text>
<g transform="translate(0 0)">
<g fill="#E64B35" fill-opacity="0.8" stroke="none"><rect x="-120.7" y="-61.6" width="241.3" height="123.2" rx="61.6" ry="61.6" transform="translate(127.75 391.70) rotate(45)"/></g>
<g fill="#4DBBD5" fill-opacity="0.8" stroke="none"><rect x="-121.2" y="-61.6" width="242.4" height="123.2" rx="61.6" ry="61.6" transform="translate(169.20 340.40) rotate(45)"/></g>
<g fill="#00A087" fill-opacity="0.8" stroke="none"><rect x="-121.2" y="-61.6" width="242.4" height="123.2" rx="61.6" ry="61.6" transform="translate(169.20 340.40) rotate(-45)"/></g>
<g fill="#3C5488" fill-opacity="0.8" stroke="none"><rect x="-120.7" y="-61.6" width="241.3" height="123.2" rx="61.6" ry="61.6" transform="translate(210.65 391.70) rotate(-45)"/></g>
<g fill="none" stroke="#000" stroke-width="1.4">
<rect x="-120.7" y="-61.6" width="241.3" height="123.2" rx="61.6" ry="61.6" transform="translate(127.75 391.70) rotate(45)"/>
<rect x="-121.2" y="-61.6" width="242.4" height="123.2" rx="61.6" ry="61.6" transform="translate(169.20 340.40) rotate(45)"/>
<rect x="-121.2" y="-61.6" width="242.4" height="123.2" rx="61.6" ry="61.6" transform="translate(169.20 340.40) rotate(-45)"/>
<rect x="-120.7" y="-61.6" width="241.3" height="123.2" rx="61.6" ry="61.6" transform="translate(210.65 391.70) rotate(-45)"/>
</g>
<g font-family='"Liberation Sans", sans-serif' font-size="11.5" fill="#1a1a1a">
<text x="89.3" y="231.9" text-anchor="middle">GSE50991</text>
<text x="225" y="232.1" text-anchor="middle">GSE106363</text>
<text x="28.5" y="293.1" text-anchor="middle">GSE82198</text>
<text x="305.5" y="291.3" text-anchor="middle">GSE18670</text>
</g>
<g font-family='"Liberation Sans", sans-serif' font-size="11.5" fill="#141414" text-anchor="middle">
<text x="113.8" y="268.9">1345</text>
<text x="224.5" y="267.7">9400</text>
<text x="89.4" y="310.5">94</text>
<text x="170.7" y="302.3">1881</text>
<text x="250.8" y="311.5">530</text>
<text x="54.8" y="351.2">834</text>
<text x="127" y="346.4">141</text>
<text x="213.9" y="346.4">141</text>
<text x="285" y="351.5">263</text>
<text x="93.3" y="395.6">699</text>
<text x="170.0" y="389.6">7</text>
<text x="249.0" y="393.4">28</text>
<text x="132.0" y="425.7">54</text>
<text x="207.6" y="425.7">1</text>
<text x="169.3" y="466.0">20</text>
</g>
</g>
<g transform="translate(346.5 -1.0)">
<g fill="#E64B35" fill-opacity="0.8" stroke="none"><rect x="-120.7" y="-61.6" width="241.3" height="123.2" rx="61.6" ry="61.6" transform="translate(127.75 391.70) rotate(45)"/></g>
<g fill="#4DBBD5" fill-opacity="0.8" stroke="none"><rect x="-121.2" y="-61.6" width="242.4" height="123.2" rx="61.6" ry="61.6" transform="translate(169.20 340.40) rotate(45)"/></g>
<g fill="#00A087" fill-opacity="0.8" stroke="none"><rect x="-121.2" y="-61.6" width="242.4" height="123.2" rx="61.6" ry="61.6" transform="translate(169.20 340.40) rotate(-45)"/></g>
<g fill="#3C5488" fill-opacity="0.8" stroke="none"><rect x="-120.7" y="-61.6" width="241.3" height="123.2" rx="61.6" ry="61.6" transform="translate(210.65 391.70) rotate(-45)"/></g>
<g fill="none" stroke="#000" stroke-width="1.4">
<rect x="-120.7" y="-61.6" width="241.3" height="123.2" rx="61.6" ry="61.6" transform="translate(127.75 391.70) rotate(45)"/>
<rect x="-121.2" y="-61.6" width="242.4" height="123.2" rx="61.6" ry="61.6" transform="translate(169.20 340.40) rotate(45)"/>
<rect x="-121.2" y="-61.6" width="242.4" height="123.2" rx="61.6" ry="61.6" transform="translate(169.20 340.40) rotate(-45)"/>
<rect x="-120.7" y="-61.6" width="241.3" height="123.2" rx="61.6" ry="61.6" transform="translate(210.65 391.70) rotate(-45)"/>
</g>
<g font-family='"Liberation Sans", sans-serif' font-size="11.5" fill="#1a1a1a">
<text x="101.5" y="232.8" text-anchor="middle">GSE50991</text>
<text x="216.70000000000005" y="233.2" text-anchor="middle">GSE106363</text>
<text x="32.30000000000001" y="292.0" text-anchor="middle">GSE82198</text>
<text x="310.20000000000005" y="294.0" text-anchor="middle">GSE18670</text>
</g>
<g font-family='"Liberation Sans", sans-serif' font-size="11.5" fill="#141414" text-anchor="middle">
<text x="113.8" y="268.9">2148</text>
<text x="224.5" y="267.7">4779</text>
<text x="89.4" y="310.5">258</text>
<text x="170.7" y="302.3">1080</text>
<text x="250.8" y="311.5">873</text>
<text x="54.8" y="351.2">806</text>
<text x="127" y="346.4">150</text>
<text x="213.9" y="346.4">210</text>
<text x="285" y="351.5">146</text>
<text x="93.3" y="395.6">383</text>
<text x="170.0" y="389.6">10</text>
<text x="249.0" y="393.4">28</text>
<text x="132.0" y="425.7">52</text>
<text x="207.6" y="425.7">14</text>
<text x="169.3" y="466.0">11</text>
</g>
</g>
</svg></body></html>
